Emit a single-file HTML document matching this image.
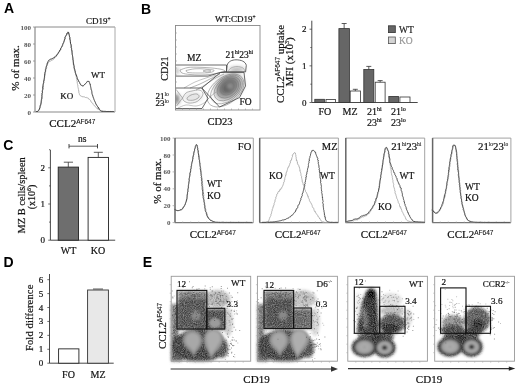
<!DOCTYPE html>
<html><head><meta charset="utf-8"><style>
html,body{margin:0;padding:0;background:#fff;}
svg{display:block;filter:grayscale(1);}
</style></head><body>
<svg width="520" height="388" viewBox="0 0 520 388">
<defs>
<filter id="bl2" x="-50%" y="-50%" width="200%" height="200%"><feGaussianBlur stdDeviation="2"/></filter>
<filter id="bl15" x="-50%" y="-50%" width="200%" height="200%"><feGaussianBlur stdDeviation="1.2"/></filter>
<filter id="spk" filterUnits="userSpaceOnUse" x="165" y="270" width="355" height="95" color-interpolation-filters="sRGB">
<feGaussianBlur in="SourceGraphic" stdDeviation="1.4" result="B"/>
<feColorMatrix in="B" type="matrix" values="0 0 0 0 0  0 0 0 0 0  0 0 0 0 0  -0.2126 -0.7152 -0.0722 0 1" result="D"/>
<feTurbulence type="fractalNoise" baseFrequency="0.9" numOctaves="1" seed="4" result="T"/>
<feColorMatrix in="T" type="matrix" values="0 0 0 0 0  0 0 0 0 0  0 0 0 0 0  1 0 0 0 0" result="N"/>
<feComposite in="D" in2="N" operator="arithmetic" k1="0.9" k2="0.55" k3="0" k4="0"/>
</filter>
<clipPath id="clipB"><rect x="175.5" y="25.5" width="84.5" height="84.5"/></clipPath>
</defs>
<rect width="520" height="388" fill="#fff"/>
<text x="3.9" y="13.2" style="font-family:'Liberation Sans',sans-serif;font-size:14px;font-weight:bold" fill="#000" text-anchor="start" >A</text>
<text x="86" y="24" style="font-family:'Liberation Serif',serif;font-size:9px;font-weight:normal" fill="#111" stroke="#111" stroke-width="0.2" text-anchor="start" >CD19<tspan style="font-size:5.5px" dy="-3.5">+</tspan></text>
<line x1="35" y1="27" x2="115" y2="27" stroke="#8a8a8a" stroke-width="1" />
<line x1="115" y1="27" x2="115" y2="112" stroke="#aaa" stroke-width="1" />
<line x1="35" y1="27" x2="35" y2="112" stroke="#8a8a8a" stroke-width="1.2" />
<line x1="35" y1="112" x2="115" y2="112" stroke="#8a8a8a" stroke-width="1.2" />
<text x="31" y="29.5" style="font-family:'Liberation Serif',serif;font-size:7px;font-weight:bold" fill="#555" text-anchor="end" >100</text>
<line x1="33" y1="27" x2="35" y2="27" stroke="#8a8a8a" stroke-width="0.8" />
<text x="31" y="46.5" style="font-family:'Liberation Serif',serif;font-size:7px;font-weight:bold" fill="#555" text-anchor="end" >80</text>
<line x1="33" y1="44" x2="35" y2="44" stroke="#8a8a8a" stroke-width="0.8" />
<text x="31" y="63.5" style="font-family:'Liberation Serif',serif;font-size:7px;font-weight:bold" fill="#555" text-anchor="end" >60</text>
<line x1="33" y1="61" x2="35" y2="61" stroke="#8a8a8a" stroke-width="0.8" />
<text x="31" y="80.5" style="font-family:'Liberation Serif',serif;font-size:7px;font-weight:bold" fill="#555" text-anchor="end" >40</text>
<line x1="33" y1="78" x2="35" y2="78" stroke="#8a8a8a" stroke-width="0.8" />
<text x="31" y="97.5" style="font-family:'Liberation Serif',serif;font-size:7px;font-weight:bold" fill="#555" text-anchor="end" >20</text>
<line x1="33" y1="95" x2="35" y2="95" stroke="#8a8a8a" stroke-width="0.8" />
<text x="31" y="114.5" style="font-family:'Liberation Serif',serif;font-size:7px;font-weight:bold" fill="#555" text-anchor="end" >0</text>
<line x1="33" y1="112" x2="35" y2="112" stroke="#8a8a8a" stroke-width="0.8" />
<text x="0" y="0" style="font-family:'Liberation Serif',serif;font-size:11px;font-weight:normal" fill="#111" stroke="#111" stroke-width="0.2" text-anchor="middle" transform="translate(19,68) rotate(-90)">% of max.</text>
<text x="72.3" y="127" style="font-family:'Liberation Serif',serif;font-size:11px;font-weight:normal" fill="#111" stroke="#111" stroke-width="0.2" text-anchor="middle" >CCL2<tspan style="font-family:'Liberation Sans',sans-serif;font-size:6.5px" stroke-width="0.1" dy="-3.3">AF647</tspan></text>
<path d="M36.0,111.5 L36.5,111.5 L37.2,111.4 L37.9,111.2 L38.6,110.5 L38.8,110.2 L39.0,109.9 L39.3,109.2 L39.6,109.4 L39.7,108.8 L39.7,107.9 L40.0,107.4 L40.1,106.9 L40.2,106.3 L40.6,105.8 L40.8,104.8 L41.0,103.8 L41.1,103.1 L41.4,103.2 L41.4,102.5 L41.2,101.6 L41.3,101.0 L41.6,100.7 L41.7,100.1 L41.8,99.9 L41.5,98.8 L41.9,98.4 L42.0,97.7 L41.7,97.2 L42.1,96.3 L41.9,95.7 L42.4,95.3 L42.1,94.3 L42.1,93.5 L42.5,92.9 L42.5,92.4 L42.4,92.0 L42.5,91.2 L42.5,90.4 L42.7,89.7 L43.0,89.4 L42.8,88.8 L42.9,87.8 L43.2,87.4 L43.0,87.0 L43.1,85.9 L43.4,85.4 L43.3,84.7 L43.3,84.4 L43.5,83.7 L43.7,82.9 L44.0,82.3 L43.9,81.8 L43.9,80.7 L44.3,80.5 L44.1,79.4 L44.4,79.3 L44.3,78.6 L44.7,77.8 L44.6,76.8 L44.6,76.8 L44.8,76.0 L44.9,75.5 L45.1,74.6 L45.0,74.3 L45.1,73.4 L45.4,73.3 L45.5,72.3 L45.8,71.8 L45.5,71.3 L45.8,70.7 L45.8,70.4 L46.1,69.4 L46.2,69.1 L46.6,68.2 L46.7,67.4 L46.6,66.4 L46.7,66.3 L47.2,65.8 L47.1,65.0 L47.5,64.5 L47.6,64.2 L47.7,63.4 L48.2,63.2 L48.4,62.6 L48.9,62.2 L49.2,61.6 L50.0,61.4 L50.3,61.2 L51.1,60.8 L51.5,60.4 L52.0,60.3 L52.3,60.0 L53.1,59.8 L53.5,59.1 L54.0,58.8 L54.3,58.6 L54.6,58.1 L55.0,57.6 L55.7,56.8 L56.1,56.6 L56.5,56.4 L56.7,55.3 L57.1,55.3 L57.4,54.4 L58.0,54.2 L58.2,53.9 L58.5,53.1 L58.8,52.4 L59.4,52.1 L59.7,51.2 L59.9,50.7 L60.0,50.3 L60.6,50.0 L60.9,49.5 L61.0,48.3 L61.3,47.8 L61.5,47.3 L62.0,46.8 L62.1,46.5 L62.7,45.6 L62.6,44.7 L63.2,44.2 L63.3,43.9 L63.4,43.5 L63.5,42.4 L63.9,41.6 L64.3,41.1 L64.2,40.4 L64.6,40.0 L64.8,39.5 L65.0,39.1 L65.2,38.0 L65.3,37.5 L65.3,37.2 L65.9,36.2 L66.0,35.6 L66.5,35.1 L66.8,34.6 L67.0,34.1 L67.6,33.1 L67.8,33.2 L67.7,32.8 L68.4,32.7 L68.6,32.7 L69.3,34.7 L69.4,34.8 L69.3,35.0 L69.4,35.9 L69.5,36.3 L69.4,36.9 L69.8,37.4 L69.7,37.8 L69.7,38.5 L70.0,38.6 L69.8,39.3 L70.1,40.1 L70.2,40.3 L70.4,40.9 L70.5,41.7 L70.4,42.8 L70.4,43.0 L70.7,44.1 L70.9,44.7 L71.1,45.3 L71.2,45.7 L71.0,46.7 L71.1,47.5 L71.4,48.0 L71.6,48.7 L71.4,49.3 L71.7,50.3 L71.6,50.8 L72.0,51.2 L71.9,51.5 L71.9,52.3 L72.1,52.6 L72.3,53.6 L72.1,54.4 L72.3,54.8 L72.4,55.2 L72.4,56.1 L72.7,57.1 L72.5,57.4 L72.5,58.1 L72.9,59.0 L72.8,59.3 L72.8,60.1 L73.2,60.4 L73.2,61.0 L73.0,61.8 L73.3,62.4 L73.2,63.3 L73.2,63.9 L73.3,64.4 L73.4,64.7 L73.6,65.4 L73.6,66.0 L73.8,66.3 L73.7,67.1 L74.0,67.6 L74.1,68.1 L74.3,68.7 L74.4,69.8 L74.6,70.2 L74.5,71.2 L74.7,71.9 L75.1,71.8 L75.0,72.7 L75.1,72.8 L75.5,73.5 L75.7,73.8 L75.7,74.7 L75.6,74.9 L76.1,76.0 L76.3,76.0 L76.3,77.2 L76.4,77.7 L76.4,77.8 L76.5,78.4 L76.8,79.3 L76.9,79.7 L76.8,80.4 L77.2,81.7 L77.4,81.7 L77.1,83.0 L77.4,83.6 L77.4,84.0 L77.6,84.7 L77.8,85.1 L77.9,86.3 L77.8,86.7 L78.1,87.3 L78.0,87.7 L78.2,88.2 L78.5,89.3 L78.5,89.8 L78.6,89.9 L78.7,91.0 L79.0,92.0 L78.8,92.8 L79.1,93.3 L79.3,93.6 L79.4,94.4 L79.5,94.8 L79.8,94.9 L80.1,95.1 L80.4,95.8 L80.8,96.0 L81.6,96.4 L82.1,96.8 L83.0,96.5 L83.6,96.8 L84.2,96.8 L85.0,97.2 L85.5,97.5 L86.2,97.2 L86.6,97.8 L87.1,97.8 L87.6,97.9 L88.3,98.2 L88.9,99.3 L89.4,99.3 L89.9,99.8 L90.3,100.3 L90.6,100.4 L90.9,101.3 L91.0,102.0 L91.5,102.2 L91.9,102.8 L92.4,103.0 L93.0,103.8 L93.2,104.4 L93.5,104.7 L94.1,105.3 L94.4,105.9 L94.9,105.9 L95.3,106.4 L95.8,107.4 L96.5,108.0 L97.1,107.8 L97.7,108.9 L97.8,109.3 L98.5,109.3 L99.0,109.7 L99.3,110.1 L99.7,110.3 L100.3,110.9 L100.5,111.1 L100.8,111.2 L102.0,111.3 L102.4,111.3 L102.9,111.4 L103.4,111.4 L104.0,111.4 L104.6,111.4 L105.3,111.5 L106.0,111.4 L106.7,111.5 L107.4,111.5 L108.1,111.4 L108.9,111.5 L109.6,111.5 L110.3,111.4 L111.0,111.5 L111.6,111.5 L112.2,111.4 L112.7,111.5 L113.2,111.5 L113.7,111.5 L114.0,111.5" stroke="#aaa" stroke-width="0.9" fill="none" stroke-linejoin="round"/>
<path d="M36.0,111.5 L36.5,111.5 L37.1,111.5 L37.9,111.3 L38.6,110.5 L38.8,110.2 L39.0,109.8 L39.1,109.2 L39.5,108.9 L39.6,108.9 L39.6,108.1 L40.0,107.8 L40.1,106.8 L40.1,106.5 L40.3,105.2 L40.7,104.6 L40.9,103.6 L41.1,102.4 L41.0,102.4 L41.0,101.7 L41.3,101.5 L41.2,100.6 L41.3,100.5 L41.4,99.5 L41.6,99.3 L41.8,98.9 L41.8,98.0 L41.9,97.3 L41.7,96.8 L42.1,96.5 L41.8,95.5 L42.0,94.8 L42.0,94.2 L42.0,93.6 L42.4,93.0 L42.4,92.3 L42.2,91.8 L42.6,90.8 L42.3,90.3 L42.6,89.7 L42.9,89.1 L42.9,88.0 L42.8,87.9 L42.7,86.8 L43.1,86.7 L42.9,85.9 L43.0,85.4 L43.2,84.5 L43.1,84.3 L43.3,83.7 L43.4,82.9 L43.7,82.4 L43.6,81.6 L43.8,81.0 L44.0,80.1 L44.1,79.6 L44.2,79.1 L44.3,78.5 L44.4,77.6 L44.3,77.0 L44.6,76.2 L44.5,75.4 L44.8,75.3 L44.7,74.1 L44.7,73.7 L44.9,73.5 L44.9,72.5 L45.0,72.2 L45.4,71.3 L45.2,70.9 L45.5,70.7 L45.4,69.7 L45.6,69.2 L45.7,69.1 L45.9,68.3 L46.0,67.5 L46.1,67.1 L46.4,66.2 L46.7,65.5 L46.7,65.1 L47.1,64.2 L47.1,64.0 L47.3,63.0 L47.3,63.0 L47.8,62.2 L47.9,61.8 L48.0,61.7 L48.4,60.8 L48.6,60.4 L49.2,60.2 L49.9,59.7 L50.2,59.2 L50.8,59.1 L51.6,59.0 L52.1,59.0 L52.4,58.4 L52.9,58.3 L53.4,58.0 L54.3,57.7 L54.5,56.9 L55.3,56.4 L55.7,56.2 L56.3,55.9 L56.6,55.3 L56.9,54.9 L57.3,54.2 L57.6,53.8 L57.9,53.6 L58.1,53.3 L58.5,52.3 L58.8,51.8 L59.3,51.5 L59.5,50.9 L59.7,50.2 L60.2,50.1 L60.6,49.3 L60.6,48.6 L61.2,47.9 L61.4,47.5 L61.5,47.3 L62.1,46.1 L62.3,45.6 L62.4,45.2 L62.7,44.5 L63.0,44.1 L63.1,43.2 L63.6,42.6 L63.9,42.2 L64.0,41.3 L64.3,40.5 L64.2,39.9 L64.6,39.7 L64.6,38.9 L65.1,38.4 L64.9,37.6 L65.2,36.9 L65.5,36.4 L66.0,35.9 L66.1,35.4 L66.6,34.8 L66.7,33.8 L67.1,33.0 L67.3,33.0 L67.9,32.7 L68.0,32.4 L68.1,31.9 L68.6,32.5 L68.9,34.1 L69.2,34.8 L69.4,35.0 L69.2,35.6 L69.6,35.9 L69.5,36.4 L69.5,37.1 L69.9,37.5 L69.9,38.3 L69.8,39.0 L70.1,39.1 L70.0,39.8 L70.3,40.7 L70.3,41.6 L70.4,41.9 L70.5,43.0 L70.6,43.6 L70.9,44.1 L71.0,44.6 L71.2,45.8 L71.3,46.2 L71.1,47.1 L71.3,47.8 L71.4,48.3 L71.7,48.7 L71.7,49.2 L71.6,49.8 L72.1,51.0 L72.0,51.1 L72.1,52.0 L72.0,52.5 L72.3,52.8 L72.1,53.7 L72.2,54.3 L72.4,54.8 L72.5,55.5 L72.6,56.2 L72.7,56.6 L72.8,57.3 L73.0,58.3 L72.9,58.8 L73.0,59.6 L73.2,60.3 L73.1,61.1 L73.4,61.6 L73.3,61.9 L73.4,62.8 L73.5,63.2 L73.6,64.0 L73.6,64.0 L73.9,65.2 L74.0,65.5 L74.1,65.9 L74.2,66.4 L74.1,67.3 L74.4,68.0 L74.4,68.8 L74.7,69.2 L74.8,69.9 L74.9,70.3 L75.4,71.6 L75.4,72.2 L75.5,72.7 L75.6,73.3 L75.9,74.0 L75.9,74.5 L76.0,74.9 L76.6,75.1 L76.5,75.9 L76.7,76.2 L77.1,77.3 L77.1,77.5 L77.3,77.7 L77.3,78.8 L77.6,79.0 L78.2,80.0 L78.3,80.2 L78.6,81.4 L79.2,81.6 L79.5,82.3 L79.7,82.8 L80.2,84.0 L80.3,84.2 L80.7,84.9 L81.0,84.8 L81.6,85.3 L82.1,85.9 L82.4,85.6 L82.8,86.3 L83.2,85.7 L83.6,85.5 L84.3,85.0 L84.6,84.4 L85.3,84.1 L85.8,83.3 L86.5,82.6 L86.8,81.8 L87.6,81.5 L87.8,81.2 L88.2,81.4 L88.8,81.3 L89.0,81.2 L89.2,81.7 L89.3,82.4 L89.4,82.5 L89.8,82.9 L89.8,83.6 L89.9,84.4 L90.4,84.4 L90.4,85.6 L90.5,86.4 L90.7,86.5 L90.8,87.5 L90.9,88.3 L91.2,88.9 L91.2,89.8 L91.5,90.3 L91.7,90.8 L91.8,91.5 L91.9,92.2 L91.9,93.3 L92.2,93.9 L92.2,94.3 L92.3,94.9 L92.6,95.1 L92.9,96.3 L93.1,97.0 L93.2,97.2 L93.4,98.1 L93.8,98.7 L94.0,99.6 L94.2,100.3 L94.6,100.7 L95.0,101.0 L94.9,101.6 L95.2,102.2 L95.6,102.9 L95.7,103.5 L95.9,104.1 L96.2,104.2 L96.4,105.0 L96.9,105.5 L97.0,106.0 L97.5,106.5 L98.2,107.0 L98.3,108.0 L98.9,108.1 L99.0,109.0 L99.2,109.1 L99.8,109.6 L100.1,110.0 L100.4,110.3 L100.9,110.9 L101.3,111.1 L101.8,111.2 L103.0,111.3 L103.4,111.4 L103.9,111.3 L104.5,111.4 L105.1,111.4 L105.8,111.4 L106.4,111.5 L107.2,111.5 L107.9,111.5 L108.7,111.5 L109.4,111.5 L110.1,111.5 L110.8,111.5 L111.5,111.5 L112.1,111.5 L112.7,111.5 L113.2,111.5 L113.7,111.5 L114.0,111.5" stroke="#333" stroke-width="0.95" fill="none" stroke-linejoin="round"/>
<text x="60.3" y="99" style="font-family:'Liberation Serif',serif;font-size:9px;font-weight:normal" fill="#111" stroke="#111" stroke-width="0.2" text-anchor="start" >KO</text>
<text x="90.9" y="78" style="font-family:'Liberation Serif',serif;font-size:9px;font-weight:normal" fill="#111" stroke="#111" stroke-width="0.2" text-anchor="start" >WT</text>
<text x="141.0" y="13.9" style="font-family:'Liberation Sans',sans-serif;font-size:14px;font-weight:bold" fill="#000" text-anchor="start" >B</text>
<text x="215" y="22" style="font-family:'Liberation Serif',serif;font-size:9px;font-weight:normal" fill="#111" stroke="#111" stroke-width="0.2" text-anchor="start" >WT:CD19<tspan style="font-size:5.5px" dy="-3.5">+</tspan></text>
<g filter="url(#bl2)" clip-path="url(#clipB)">
<ellipse cx="229" cy="87" rx="16" ry="12" fill="#b0b0b0" transform="rotate(-40 229 87)"/>
<ellipse cx="228" cy="86" rx="12" ry="9" fill="#808080" transform="rotate(-40 228 86)"/>
<ellipse cx="228.5" cy="86.5" rx="7" ry="5.5" fill="#5e5e5e" transform="rotate(-40 229 87)"/>
<ellipse cx="237" cy="69.5" rx="8" ry="2.5" fill="#b0b0b0"/>
<ellipse cx="230" cy="86" rx="2" ry="1.6" fill="#ddd"/>
<ellipse cx="176.5" cy="99" rx="2.5" ry="5" fill="#666"/>
<ellipse cx="176.5" cy="71" rx="2" ry="3" fill="#999"/>
<ellipse cx="193" cy="97" rx="10" ry="5" fill="#e4e4e4"/>
</g>
<ellipse cx="225.5" cy="90.5" rx="21" ry="13" fill="none" stroke="#777" stroke-width="0.5" transform="rotate(-38 225.5 90.5)"/>
<ellipse cx="226.5" cy="89.5" rx="18" ry="11.5" fill="none" stroke="#777" stroke-width="0.5" transform="rotate(-38 226.5 89.5)"/>
<ellipse cx="227.3" cy="88.7" rx="15" ry="10" fill="none" stroke="#777" stroke-width="0.5" transform="rotate(-38 227.3 88.7)"/>
<ellipse cx="227.9" cy="88.1" rx="12" ry="8.5" fill="none" stroke="#777" stroke-width="0.5" transform="rotate(-38 227.9 88.1)"/>
<ellipse cx="228.5" cy="87.5" rx="9" ry="6.5" fill="none" stroke="#777" stroke-width="0.5" transform="rotate(-38 228.5 87.5)"/>
<ellipse cx="228.5" cy="87.5" rx="6" ry="4.5" fill="none" stroke="#777" stroke-width="0.5" transform="rotate(-38 228.5 87.5)"/>
<path d="M228.0,71.5 C228.5,70.9 229.5,68.8 231.0,68.0 C232.5,67.2 235.0,66.5 237.0,66.5 C239.0,66.5 241.7,67.2 243.0,68.0 C244.3,68.8 244.7,70.9 245.0,71.5" stroke="#888" stroke-width="0.5" fill="none" stroke-linejoin="round" />
<path d="M180.0,70.0 C181.3,69.6 184.7,68.0 188.0,67.5 C191.3,67.0 196.0,67.2 200.0,67.3 C204.0,67.4 208.3,67.6 212.0,68.0 C215.7,68.4 219.8,68.9 222.0,69.5 C224.2,70.1 225.7,70.9 225.0,71.5 C224.3,72.1 220.5,72.5 218.0,73.0 C215.5,73.5 213.0,74.2 210.0,74.5 C207.0,74.8 203.3,75.0 200.0,75.0 C196.7,75.0 193.0,74.8 190.0,74.5 C187.0,74.2 183.7,73.8 182.0,73.0 C180.3,72.2 180.3,70.5 180.0,70.0" stroke="#777" stroke-width="0.55" fill="none" stroke-linejoin="round" />
<path d="M186.0,70.5 C187.5,70.2 191.8,69.0 195.0,68.8 C198.2,68.5 201.8,68.8 205.0,69.0 C208.2,69.2 213.2,69.7 214.0,70.3 C214.8,70.9 212.7,72.0 210.0,72.5 C207.3,73.0 201.7,73.0 198.0,73.0 C194.3,73.0 190.0,72.9 188.0,72.5 C186.0,72.1 186.3,70.8 186.0,70.5" stroke="#777" stroke-width="0.55" fill="none" stroke-linejoin="round" />
<path d="M203.0,71.0 C203.7,70.8 205.7,70.0 207.0,70.0 C208.3,70.0 211.0,70.7 211.0,71.0 C211.0,71.3 208.3,72.0 207.0,72.0 C205.7,72.0 203.7,71.2 203.0,71.0" stroke="#777" stroke-width="0.55" fill="none" stroke-linejoin="round" />
<path d="M190.0,88.0 C191.7,87.3 196.7,85.5 200.0,84.0 C203.3,82.5 206.7,80.7 210.0,79.0 C213.3,77.3 218.3,74.8 220.0,74.0" stroke="#777" stroke-width="0.55" fill="none" stroke-linejoin="round" />
<path d="M196.0,90.0 C197.5,89.2 202.0,86.8 205.0,85.0 C208.0,83.2 210.8,80.8 214.0,79.0 C217.2,77.2 222.3,74.8 224.0,74.0" stroke="#777" stroke-width="0.55" fill="none" stroke-linejoin="round" />
<path d="M184.0,88.0 C185.8,87.0 191.3,83.7 195.0,82.0 C198.7,80.3 202.5,79.2 206.0,78.0 C209.5,76.8 214.3,75.5 216.0,75.0" stroke="#888" stroke-width="0.5" fill="none" stroke-linejoin="round" />
<path d="M176.5,90.0 L182.5,98.0 L176.5,106.0" stroke="#777" stroke-width="0.55" fill="none" stroke-linejoin="round" />
<path d="M182.5,98.0 C183.1,97.2 184.4,94.2 186.0,93.0 C187.6,91.8 189.8,91.5 192.0,91.0 C194.2,90.5 197.2,89.7 199.0,90.0 C200.8,90.3 202.7,91.7 203.0,93.0 C203.3,94.3 202.2,96.5 201.0,98.0 C199.8,99.5 198.0,101.2 196.0,102.0 C194.0,102.8 191.0,103.2 189.0,103.0 C187.0,102.8 185.1,101.8 184.0,101.0 C182.9,100.2 182.8,98.5 182.5,98.0" stroke="#777" stroke-width="0.55" fill="none" stroke-linejoin="round" />
<path d="M187.0,98.0 C187.7,97.5 189.3,95.7 191.0,95.0 C192.7,94.3 195.7,93.7 197.0,94.0 C198.3,94.3 199.5,96.0 199.0,97.0 C198.5,98.0 195.8,99.5 194.0,100.0 C192.2,100.5 189.2,100.3 188.0,100.0 C186.8,99.7 187.2,98.3 187.0,98.0" stroke="#777" stroke-width="0.55" fill="none" stroke-linejoin="round" />
<path d="M178.0,108.0 C179.3,107.5 183.0,105.3 186.0,105.0 C189.0,104.7 193.0,106.3 196.0,106.0 C199.0,105.7 201.7,104.5 204.0,103.0 C206.3,101.5 208.0,98.8 210.0,97.0 C212.0,95.2 215.0,92.8 216.0,92.0" stroke="#888" stroke-width="0.5" fill="none" stroke-linejoin="round" />
<path d="M175.5,65.0 L226.5,65.0 L226.5,71.5 L220.6,72.4 L208.0,76.1 L175.5,76.1" stroke="#444" stroke-width="0.8" fill="none" stroke-linejoin="round" />
<path d="M226.5,71.8 L227.2,65.3 C228,61.5 232,59.8 236,59.8 C241,59.8 245.5,61.5 246.3,65.3 L245.6,71.8 Z" fill="none" stroke="#444" stroke-width="0.8"/>
<path d="M220.6,72.4 L244.0,72.4 L245.5,86.0 L239.5,97.5 L219.5,107.0 L201.9,88.0 L220.6,72.4" stroke="#444" stroke-width="0.8" fill="none" stroke-linejoin="round" />
<path d="M175.5,88.0 L201.9,88.0 L208.0,98.4 L202.0,108.5 L175.5,108.5" stroke="#444" stroke-width="0.8" fill="none" stroke-linejoin="round" />
<rect x="175.5" y="25.5" width="84.5" height="84.5" stroke="#888" stroke-width="0.9" fill="none" />
<line x1="182.5" y1="110" x2="182.5" y2="108.5" stroke="#999" stroke-width="0.6" />
<line x1="189.5" y1="110" x2="189.5" y2="108.5" stroke="#999" stroke-width="0.6" />
<line x1="196.5" y1="110" x2="196.5" y2="108.5" stroke="#999" stroke-width="0.6" />
<line x1="203.5" y1="110" x2="203.5" y2="108.5" stroke="#999" stroke-width="0.6" />
<line x1="210.5" y1="110" x2="210.5" y2="108.5" stroke="#999" stroke-width="0.6" />
<line x1="217.5" y1="110" x2="217.5" y2="108.5" stroke="#999" stroke-width="0.6" />
<line x1="224.5" y1="110" x2="224.5" y2="108.5" stroke="#999" stroke-width="0.6" />
<line x1="231.5" y1="110" x2="231.5" y2="108.5" stroke="#999" stroke-width="0.6" />
<line x1="238.5" y1="110" x2="238.5" y2="108.5" stroke="#999" stroke-width="0.6" />
<line x1="245.5" y1="110" x2="245.5" y2="108.5" stroke="#999" stroke-width="0.6" />
<line x1="252.5" y1="110" x2="252.5" y2="108.5" stroke="#999" stroke-width="0.6" />
<line x1="175.5" y1="103" x2="177.0" y2="103" stroke="#999" stroke-width="0.6" />
<line x1="175.5" y1="96" x2="177.0" y2="96" stroke="#999" stroke-width="0.6" />
<line x1="175.5" y1="89" x2="177.0" y2="89" stroke="#999" stroke-width="0.6" />
<line x1="175.5" y1="82" x2="177.0" y2="82" stroke="#999" stroke-width="0.6" />
<line x1="175.5" y1="75" x2="177.0" y2="75" stroke="#999" stroke-width="0.6" />
<line x1="175.5" y1="68" x2="177.0" y2="68" stroke="#999" stroke-width="0.6" />
<line x1="175.5" y1="61" x2="177.0" y2="61" stroke="#999" stroke-width="0.6" />
<line x1="175.5" y1="54" x2="177.0" y2="54" stroke="#999" stroke-width="0.6" />
<line x1="175.5" y1="47" x2="177.0" y2="47" stroke="#999" stroke-width="0.6" />
<line x1="175.5" y1="40" x2="177.0" y2="40" stroke="#999" stroke-width="0.6" />
<line x1="175.5" y1="33" x2="177.0" y2="33" stroke="#999" stroke-width="0.6" />
<text x="187" y="60.5" style="font-family:'Liberation Serif',serif;font-size:9.5px;font-weight:normal" fill="#111" stroke="#111" stroke-width="0.2" text-anchor="start" >MZ</text>
<text x="225.5" y="57.8" style="font-family:'Liberation Serif',serif;font-size:9.5px;font-weight:normal" fill="#111" stroke="#111" stroke-width="0.2" text-anchor="start" >21<tspan style="font-size:5.5px" dy="-3.5">hi</tspan><tspan dy="3.5">23</tspan><tspan style="font-size:5.5px" dy="-3.5">hi</tspan></text>
<text x="239.4" y="105.3" style="font-family:'Liberation Serif',serif;font-size:9.5px;font-weight:normal" fill="#111" stroke="#111" stroke-width="0.2" text-anchor="start" >FO</text>
<text x="0" y="0" style="font-family:'Liberation Serif',serif;font-size:10.2px;font-weight:normal" fill="#111" stroke="#111" stroke-width="0.2" text-anchor="middle" transform="translate(168.3,68.5) rotate(-90)">CD21</text>
<text x="155.4" y="98.8" style="font-family:'Liberation Serif',serif;font-size:9px;font-weight:normal" fill="#111" stroke="#111" stroke-width="0.2" text-anchor="start" >21<tspan style="font-size:5.5px" dy="-3.3" stroke-width="0.08">lo</tspan></text>
<text x="155.4" y="106.4" style="font-family:'Liberation Serif',serif;font-size:9px;font-weight:normal" fill="#111" stroke="#111" stroke-width="0.2" text-anchor="start" >23<tspan style="font-size:5.5px" dy="-3.3" stroke-width="0.08">lo</tspan></text>
<text x="207.5" y="125.3" style="font-family:'Liberation Serif',serif;font-size:10.5px;font-weight:normal" fill="#111" stroke="#111" stroke-width="0.2" text-anchor="start" >CD23</text>
<line x1="311.8" y1="20.7" x2="311.8" y2="102.5" stroke="#333" stroke-width="0.9" />
<line x1="311.8" y1="102.5" x2="417.7" y2="102.5" stroke="#333" stroke-width="0.9" />
<line x1="309.5" y1="102.5" x2="311.8" y2="102.5" stroke="#333" stroke-width="0.7" />
<line x1="310.3" y1="84.175" x2="311.8" y2="84.175" stroke="#333" stroke-width="0.7" />
<line x1="309.5" y1="65.85" x2="311.8" y2="65.85" stroke="#333" stroke-width="0.7" />
<line x1="310.3" y1="47.525000000000006" x2="311.8" y2="47.525000000000006" stroke="#333" stroke-width="0.7" />
<line x1="309.5" y1="29.200000000000003" x2="311.8" y2="29.200000000000003" stroke="#333" stroke-width="0.7" />
<text x="306.5" y="32.2" style="font-family:'Liberation Serif',serif;font-size:9px;font-weight:normal" fill="#111" stroke="#111" stroke-width="0.2" text-anchor="end" >2</text>
<text x="306.5" y="68.85" style="font-family:'Liberation Serif',serif;font-size:9px;font-weight:normal" fill="#111" stroke="#111" stroke-width="0.2" text-anchor="end" >1</text>
<text x="306.5" y="105.5" style="font-family:'Liberation Serif',serif;font-size:9px;font-weight:normal" fill="#111" stroke="#111" stroke-width="0.2" text-anchor="end" >0</text>
<rect x="314.8" y="99.3" width="9.599999999999966" height="3.200000000000003" stroke="#333" stroke-width="0.8" fill="#666" />
<rect x="326" y="99.5" width="9.5" height="3.0" stroke="#333" stroke-width="0.8" fill="#fff" />
<rect x="338.9" y="28.6" width="10.5" height="73.9" stroke="#333" stroke-width="0.8" fill="#666" />
<line x1="344.15" y1="28.6" x2="344.15" y2="23.5" stroke="#333" stroke-width="0.8" />
<line x1="341.65" y1="23.5" x2="346.65" y2="23.5" stroke="#333" stroke-width="0.8" />
<rect x="350.2" y="91" width="10.199999999999989" height="11.5" stroke="#333" stroke-width="0.8" fill="#fff" />
<line x1="355.29999999999995" y1="91" x2="355.29999999999995" y2="89.3" stroke="#333" stroke-width="0.8" />
<line x1="352.79999999999995" y1="89.3" x2="357.79999999999995" y2="89.3" stroke="#333" stroke-width="0.8" />
<rect x="363.8" y="69.5" width="10.0" height="33.0" stroke="#333" stroke-width="0.8" fill="#666" />
<line x1="368.8" y1="69.5" x2="368.8" y2="66.4" stroke="#333" stroke-width="0.8" />
<line x1="366.3" y1="66.4" x2="371.3" y2="66.4" stroke="#333" stroke-width="0.8" />
<rect x="375.2" y="82.2" width="9.900000000000034" height="20.299999999999997" stroke="#333" stroke-width="0.8" fill="#fff" />
<line x1="380.15" y1="82.2" x2="380.15" y2="80.6" stroke="#333" stroke-width="0.8" />
<line x1="377.65" y1="80.6" x2="382.65" y2="80.6" stroke="#333" stroke-width="0.8" />
<rect x="388.8" y="96.4" width="9.599999999999966" height="6.099999999999994" stroke="#333" stroke-width="0.8" fill="#666" />
<rect x="399.9" y="97" width="10.100000000000023" height="5.5" stroke="#333" stroke-width="0.8" fill="#fff" />
<rect x="388.5" y="25.8" width="6.8" height="6.8" stroke="#333" stroke-width="0.8" fill="#666" />
<rect x="388.5" y="37" width="6.8" height="6.6" stroke="#555" stroke-width="0.8" fill="#d4d4d4" />
<text x="399" y="32.6" style="font-family:'Liberation Serif',serif;font-size:9.5px;font-weight:normal" fill="#222" stroke="#222" stroke-width="0.2" text-anchor="start" >WT</text>
<text x="399" y="43.6" style="font-family:'Liberation Serif',serif;font-size:9.5px;font-weight:normal" fill="#999" stroke="#999" stroke-width="0.2" text-anchor="start" >KO</text>
<text x="318.5" y="115.3" style="font-family:'Liberation Serif',serif;font-size:10px;font-weight:normal" fill="#111" stroke="#111" stroke-width="0.2" text-anchor="start" >FO</text>
<text x="342.5" y="115.3" style="font-family:'Liberation Serif',serif;font-size:10px;font-weight:normal" fill="#111" stroke="#111" stroke-width="0.2" text-anchor="start" >MZ</text>
<text x="367" y="115.3" style="font-family:'Liberation Serif',serif;font-size:10px;font-weight:normal" fill="#111" stroke="#111" stroke-width="0.2" text-anchor="start" >21<tspan style="font-size:6px" dy="-4">hi</tspan></text>
<text x="391" y="115.3" style="font-family:'Liberation Serif',serif;font-size:10px;font-weight:normal" fill="#111" stroke="#111" stroke-width="0.2" text-anchor="start" >21<tspan style="font-size:6px" dy="-4">lo</tspan></text>
<text x="367" y="126.3" style="font-family:'Liberation Serif',serif;font-size:10px;font-weight:normal" fill="#111" stroke="#111" stroke-width="0.2" text-anchor="start" >23<tspan style="font-size:6px" dy="-4">hi</tspan></text>
<text x="391" y="126.3" style="font-family:'Liberation Serif',serif;font-size:10px;font-weight:normal" fill="#111" stroke="#111" stroke-width="0.2" text-anchor="start" >23<tspan style="font-size:6px" dy="-4">lo</tspan></text>
<text x="0" y="0" style="font-family:'Liberation Serif',serif;font-size:11px;font-weight:normal" fill="#111" stroke="#111" stroke-width="0.2" text-anchor="middle" transform="translate(283.5,64) rotate(-90)">CCL2<tspan style="font-family:'Liberation Sans',sans-serif;font-size:6.5px" stroke-width="0.1" dy="-3.3">AF647</tspan><tspan dy="3.3"> uptake</tspan></text>
<text x="0" y="0" style="font-family:'Liberation Serif',serif;font-size:11px;font-weight:normal" fill="#111" stroke="#111" stroke-width="0.2" text-anchor="middle" transform="translate(292.5,62) rotate(-90)">MFI (x10<tspan style="font-size:6px" dy="-4">3</tspan><tspan dy="4">)</tspan></text>
<line x1="174.7" y1="138.1" x2="253.3" y2="138.1" stroke="#999" stroke-width="0.9" />
<line x1="253.3" y1="138.1" x2="253.3" y2="222.6" stroke="#999" stroke-width="0.9" />
<line x1="175.0" y1="138.1" x2="175.0" y2="222.6" stroke="#666" stroke-width="1.5" />
<line x1="174.7" y1="222.6" x2="253.3" y2="222.6" stroke="#777" stroke-width="1.2" />
<line x1="182.7" y1="222.6" x2="182.7" y2="221.4" stroke="#aaa" stroke-width="0.6" />
<line x1="190.7" y1="222.6" x2="190.7" y2="221.4" stroke="#aaa" stroke-width="0.6" />
<line x1="198.7" y1="222.6" x2="198.7" y2="221.4" stroke="#aaa" stroke-width="0.6" />
<line x1="206.7" y1="222.6" x2="206.7" y2="221.4" stroke="#aaa" stroke-width="0.6" />
<line x1="214.7" y1="222.6" x2="214.7" y2="221.4" stroke="#aaa" stroke-width="0.6" />
<line x1="222.7" y1="222.6" x2="222.7" y2="221.4" stroke="#aaa" stroke-width="0.6" />
<line x1="230.7" y1="222.6" x2="230.7" y2="221.4" stroke="#aaa" stroke-width="0.6" />
<line x1="238.7" y1="222.6" x2="238.7" y2="221.4" stroke="#aaa" stroke-width="0.6" />
<line x1="246.7" y1="222.6" x2="246.7" y2="221.4" stroke="#aaa" stroke-width="0.6" />
<text x="212.8" y="238" style="font-family:'Liberation Serif',serif;font-size:11px;font-weight:normal" fill="#111" stroke="#111" stroke-width="0.2" text-anchor="middle" >CCL2<tspan style="font-family:'Liberation Sans',sans-serif;font-size:6.5px" stroke-width="0.1" dy="-3.3">AF647</tspan></text>
<line x1="259.4" y1="138.1" x2="338.4" y2="138.1" stroke="#999" stroke-width="0.9" />
<line x1="338.4" y1="138.1" x2="338.4" y2="222.6" stroke="#999" stroke-width="0.9" />
<line x1="259.7" y1="138.1" x2="259.7" y2="222.6" stroke="#666" stroke-width="1.5" />
<line x1="259.4" y1="222.6" x2="338.4" y2="222.6" stroke="#777" stroke-width="1.2" />
<line x1="267.4" y1="222.6" x2="267.4" y2="221.4" stroke="#aaa" stroke-width="0.6" />
<line x1="275.4" y1="222.6" x2="275.4" y2="221.4" stroke="#aaa" stroke-width="0.6" />
<line x1="283.4" y1="222.6" x2="283.4" y2="221.4" stroke="#aaa" stroke-width="0.6" />
<line x1="291.4" y1="222.6" x2="291.4" y2="221.4" stroke="#aaa" stroke-width="0.6" />
<line x1="299.4" y1="222.6" x2="299.4" y2="221.4" stroke="#aaa" stroke-width="0.6" />
<line x1="307.4" y1="222.6" x2="307.4" y2="221.4" stroke="#aaa" stroke-width="0.6" />
<line x1="315.4" y1="222.6" x2="315.4" y2="221.4" stroke="#aaa" stroke-width="0.6" />
<line x1="323.4" y1="222.6" x2="323.4" y2="221.4" stroke="#aaa" stroke-width="0.6" />
<line x1="331.4" y1="222.6" x2="331.4" y2="221.4" stroke="#aaa" stroke-width="0.6" />
<text x="297.7" y="238" style="font-family:'Liberation Serif',serif;font-size:11px;font-weight:normal" fill="#111" stroke="#111" stroke-width="0.2" text-anchor="middle" >CCL2<tspan style="font-family:'Liberation Sans',sans-serif;font-size:6.5px" stroke-width="0.1" dy="-3.3">AF647</tspan></text>
<line x1="345.5" y1="138.1" x2="424.7" y2="138.1" stroke="#999" stroke-width="0.9" />
<line x1="424.7" y1="138.1" x2="424.7" y2="222.6" stroke="#999" stroke-width="0.9" />
<line x1="345.8" y1="138.1" x2="345.8" y2="222.6" stroke="#666" stroke-width="1.5" />
<line x1="345.5" y1="222.6" x2="424.7" y2="222.6" stroke="#777" stroke-width="1.2" />
<line x1="353.5" y1="222.6" x2="353.5" y2="221.4" stroke="#aaa" stroke-width="0.6" />
<line x1="361.5" y1="222.6" x2="361.5" y2="221.4" stroke="#aaa" stroke-width="0.6" />
<line x1="369.5" y1="222.6" x2="369.5" y2="221.4" stroke="#aaa" stroke-width="0.6" />
<line x1="377.5" y1="222.6" x2="377.5" y2="221.4" stroke="#aaa" stroke-width="0.6" />
<line x1="385.5" y1="222.6" x2="385.5" y2="221.4" stroke="#aaa" stroke-width="0.6" />
<line x1="393.5" y1="222.6" x2="393.5" y2="221.4" stroke="#aaa" stroke-width="0.6" />
<line x1="401.5" y1="222.6" x2="401.5" y2="221.4" stroke="#aaa" stroke-width="0.6" />
<line x1="409.5" y1="222.6" x2="409.5" y2="221.4" stroke="#aaa" stroke-width="0.6" />
<line x1="417.5" y1="222.6" x2="417.5" y2="221.4" stroke="#aaa" stroke-width="0.6" />
<text x="383.90000000000003" y="238" style="font-family:'Liberation Serif',serif;font-size:11px;font-weight:normal" fill="#111" stroke="#111" stroke-width="0.2" text-anchor="middle" >CCL2<tspan style="font-family:'Liberation Sans',sans-serif;font-size:6.5px" stroke-width="0.1" dy="-3.3">AF647</tspan></text>
<line x1="432.3" y1="138.1" x2="510.9" y2="138.1" stroke="#999" stroke-width="0.9" />
<line x1="510.9" y1="138.1" x2="510.9" y2="222.6" stroke="#999" stroke-width="0.9" />
<line x1="432.6" y1="138.1" x2="432.6" y2="222.6" stroke="#666" stroke-width="1.5" />
<line x1="432.3" y1="222.6" x2="510.9" y2="222.6" stroke="#777" stroke-width="1.2" />
<line x1="440.3" y1="222.6" x2="440.3" y2="221.4" stroke="#aaa" stroke-width="0.6" />
<line x1="448.3" y1="222.6" x2="448.3" y2="221.4" stroke="#aaa" stroke-width="0.6" />
<line x1="456.3" y1="222.6" x2="456.3" y2="221.4" stroke="#aaa" stroke-width="0.6" />
<line x1="464.3" y1="222.6" x2="464.3" y2="221.4" stroke="#aaa" stroke-width="0.6" />
<line x1="472.3" y1="222.6" x2="472.3" y2="221.4" stroke="#aaa" stroke-width="0.6" />
<line x1="480.3" y1="222.6" x2="480.3" y2="221.4" stroke="#aaa" stroke-width="0.6" />
<line x1="488.3" y1="222.6" x2="488.3" y2="221.4" stroke="#aaa" stroke-width="0.6" />
<line x1="496.3" y1="222.6" x2="496.3" y2="221.4" stroke="#aaa" stroke-width="0.6" />
<line x1="504.3" y1="222.6" x2="504.3" y2="221.4" stroke="#aaa" stroke-width="0.6" />
<text x="470.40000000000003" y="238" style="font-family:'Liberation Serif',serif;font-size:11px;font-weight:normal" fill="#111" stroke="#111" stroke-width="0.2" text-anchor="middle" >CCL2<tspan style="font-family:'Liberation Sans',sans-serif;font-size:6.5px" stroke-width="0.1" dy="-3.3">AF647</tspan></text>
<text x="170.5" y="140.6" style="font-family:'Liberation Serif',serif;font-size:7px;font-weight:bold" fill="#555" text-anchor="end" >100</text>
<line x1="172.6" y1="138.1" x2="174.6" y2="138.1" stroke="#999" stroke-width="0.7" />
<text x="170.5" y="157.5" style="font-family:'Liberation Serif',serif;font-size:7px;font-weight:bold" fill="#555" text-anchor="end" >80</text>
<line x1="172.6" y1="155.0" x2="174.6" y2="155.0" stroke="#999" stroke-width="0.7" />
<text x="170.5" y="174.39999999999998" style="font-family:'Liberation Serif',serif;font-size:7px;font-weight:bold" fill="#555" text-anchor="end" >60</text>
<line x1="172.6" y1="171.89999999999998" x2="174.6" y2="171.89999999999998" stroke="#999" stroke-width="0.7" />
<text x="170.5" y="191.3" style="font-family:'Liberation Serif',serif;font-size:7px;font-weight:bold" fill="#555" text-anchor="end" >40</text>
<line x1="172.6" y1="188.8" x2="174.6" y2="188.8" stroke="#999" stroke-width="0.7" />
<text x="170.5" y="208.2" style="font-family:'Liberation Serif',serif;font-size:7px;font-weight:bold" fill="#555" text-anchor="end" >20</text>
<line x1="172.6" y1="205.7" x2="174.6" y2="205.7" stroke="#999" stroke-width="0.7" />
<text x="170.5" y="225.1" style="font-family:'Liberation Serif',serif;font-size:7px;font-weight:bold" fill="#555" text-anchor="end" >0</text>
<line x1="172.6" y1="222.6" x2="174.6" y2="222.6" stroke="#999" stroke-width="0.7" />
<text x="0" y="0" style="font-family:'Liberation Serif',serif;font-size:11px;font-weight:normal" fill="#111" stroke="#111" stroke-width="0.2" text-anchor="middle" transform="translate(160.5,181) rotate(-90)">% of max.</text>
<path d="M174.7,208.9 L174.8,208.9 L175.3,209.5 L176.0,210.5 L176.6,210.3 L177.1,210.5 L178.2,210.7 L178.7,210.9 L179.4,210.1 L179.8,210.2 L180.3,210.3 L181.0,210.0 L181.6,209.3 L182.0,209.0 L182.5,208.2 L183.0,207.8 L183.1,207.7 L183.5,207.1 L183.9,206.7 L184.2,206.6 L184.2,205.7 L184.6,205.5 L184.9,204.7 L185.4,203.9 L185.4,203.3 L185.6,202.4 L185.8,202.1 L186.2,201.8 L186.5,200.9 L186.5,200.8 L186.4,200.1 L186.7,199.8 L186.9,198.6 L186.9,197.9 L186.9,197.6 L186.8,197.0 L187.0,196.4 L187.1,195.5 L187.2,195.2 L187.2,194.7 L187.3,193.6 L187.5,193.2 L187.5,192.7 L187.8,192.0 L187.9,190.9 L187.9,190.5 L187.8,189.9 L187.9,189.4 L188.2,188.8 L188.1,188.0 L188.1,187.5 L188.6,187.1 L188.3,186.6 L188.4,185.8 L188.6,185.6 L188.6,184.7 L188.9,184.2 L188.8,183.5 L188.8,182.7 L188.8,182.4 L189.2,181.4 L189.2,180.5 L188.9,180.2 L189.1,179.5 L189.5,178.7 L189.2,178.2 L189.5,177.5 L189.3,177.2 L189.5,176.3 L189.7,176.0 L189.8,175.4 L189.9,175.0 L190.2,174.0 L190.0,173.8 L190.1,173.1 L190.4,172.4 L190.6,171.9 L190.3,171.2 L190.6,170.5 L190.6,169.7 L190.9,169.3 L190.8,168.4 L190.9,167.8 L191.1,167.1 L191.0,166.5 L191.2,166.4 L191.3,165.6 L191.7,165.0 L191.5,164.7 L192.0,163.5 L191.8,163.3 L192.1,162.6 L192.2,161.9 L192.3,161.3 L192.3,161.0 L192.7,160.4 L192.6,159.4 L192.8,158.8 L193.0,158.3 L192.8,157.3 L193.2,156.5 L193.1,155.7 L193.4,155.8 L193.7,154.5 L193.7,154.1 L193.8,153.5 L194.1,153.4 L193.8,152.6 L193.9,151.5 L194.1,151.5 L194.5,150.6 L194.3,150.0 L194.5,150.0 L194.7,148.8 L195.1,148.3 L195.0,147.3 L195.4,147.1 L195.7,146.4 L195.7,146.2 L195.9,145.5 L196.2,144.4 L197.2,145.2 L197.1,145.4 L197.1,145.7 L197.3,146.2 L197.4,146.8 L197.3,147.4 L197.5,147.8 L197.4,148.2 L197.9,149.0 L197.6,149.5 L197.9,150.8 L197.9,151.4 L198.2,151.7 L198.4,152.5 L198.2,153.4 L198.6,154.2 L198.6,155.3 L199.0,156.2 L198.8,156.5 L199.1,156.5 L198.8,157.0 L198.9,157.5 L199.1,158.6 L199.2,158.9 L199.2,159.2 L199.7,159.7 L199.6,160.9 L199.8,161.4 L199.7,162.1 L200.0,162.7 L200.2,162.8 L200.3,163.7 L200.3,164.2 L200.5,164.6 L200.4,165.4 L200.4,166.2 L200.6,167.2 L200.6,167.7 L200.7,168.1 L201.0,168.7 L200.8,169.4 L201.2,169.9 L201.2,170.8 L201.3,171.1 L201.1,171.7 L201.3,172.5 L201.2,173.2 L201.5,173.6 L201.6,174.7 L201.5,175.3 L201.7,175.8 L201.6,176.7 L201.9,177.3 L201.8,177.6 L202.1,178.0 L202.0,179.1 L202.4,179.5 L202.1,180.2 L202.5,180.7 L202.4,181.5 L202.5,182.0 L202.5,183.2 L202.7,183.6 L202.6,184.2 L202.4,185.0 L202.8,185.3 L202.8,185.9 L202.7,186.3 L202.9,187.2 L202.9,187.3 L203.0,188.2 L203.0,188.9 L203.2,189.0 L203.0,190.2 L203.2,190.2 L203.3,191.5 L203.2,192.1 L203.1,192.9 L203.4,192.9 L203.6,193.8 L203.7,194.5 L203.7,194.7 L203.8,194.9 L203.8,195.9 L203.6,196.5 L203.7,196.8 L204.0,197.1 L203.8,198.1 L203.8,198.6 L204.2,199.3 L204.1,200.1 L204.4,200.6 L204.4,201.2 L204.6,201.2 L204.5,201.8 L204.4,202.6 L204.9,203.6 L204.6,203.7 L204.9,204.9 L205.1,205.6 L204.9,206.3 L205.1,206.7 L205.5,207.4 L205.3,208.0 L205.5,208.1 L205.6,208.9 L205.9,209.5 L206.0,210.4 L205.9,210.5 L206.2,211.3 L206.1,211.5 L206.6,212.4 L206.6,212.9 L207.1,214.0 L207.2,214.4 L207.2,215.1 L207.4,215.9 L207.8,216.6 L208.1,216.8 L208.4,217.7 L208.6,218.0 L208.8,218.3 L209.2,219.0 L209.5,219.4 L210.1,219.6 L210.7,219.9 L211.1,220.5 L211.5,220.7 L212.1,221.0 L212.6,221.3 L213.2,221.5 L213.8,221.7 L214.4,221.9 L214.9,222.0 L215.1,222.2 L215.4,222.3 L215.5,222.4 L215.8,222.5 L216.2,222.5 L216.8,222.5 L217.7,222.5 L219.0,222.6 L220.6,222.6 L221.0,222.6 L221.4,222.6 L221.8,222.6 L222.3,222.7 L222.8,222.6 L223.3,222.7 L223.8,222.7 L224.3,222.6 L224.9,222.7 L225.5,222.7 L226.1,222.6 L226.7,222.7 L227.4,222.6 L228.0,222.7 L228.7,222.7 L229.4,222.7 L230.1,222.7 L230.8,222.7 L231.5,222.7 L232.2,222.7 L232.9,222.7 L233.7,222.7 L234.4,222.7 L235.1,222.7 L235.9,222.7 L236.6,222.7 L237.4,222.7 L238.1,222.7 L238.8,222.7 L239.5,222.7 L240.3,222.7 L241.0,222.7 L241.7,222.7 L242.5,222.7 L243.1,222.7 L243.8,222.7 L244.5,222.6 L245.1,222.7 L245.8,222.7 L246.4,222.7 L247.0,222.7 L247.6,222.7 L248.2,222.7 L248.7,222.7 L249.2,222.7 L249.7,222.7 L250.2,222.7 L250.7,222.7 L251.2,222.7 L251.6,222.7 L251.9,222.7 L252.3,222.7 L252.6,222.7" stroke="#aaa" stroke-width="0.9" fill="none" stroke-linejoin="round"/>
<path d="M174.6,208.9 L174.9,209.3 L175.2,210.0 L175.8,210.2 L176.5,210.4 L177.1,210.5 L177.9,210.7 L178.6,210.5 L179.3,210.5 L179.6,210.2 L180.7,209.6 L181.1,210.2 L181.5,209.7 L182.0,209.1 L182.8,208.6 L182.9,208.1 L183.2,208.0 L183.3,207.0 L183.6,206.7 L184.2,206.4 L184.5,205.8 L184.6,205.5 L184.8,205.1 L185.4,204.0 L185.4,203.7 L185.9,202.9 L185.8,202.2 L185.9,201.6 L186.3,201.4 L186.4,200.1 L186.7,200.2 L186.6,199.0 L186.8,198.8 L186.9,198.7 L187.1,197.3 L187.1,197.0 L187.2,196.3 L187.2,195.8 L187.1,195.0 L187.5,194.2 L187.3,194.2 L187.6,193.3 L187.5,192.3 L187.6,192.3 L187.9,191.6 L187.8,190.6 L188.0,190.3 L187.9,189.7 L188.1,188.5 L188.2,188.1 L188.4,188.0 L188.4,187.2 L188.4,186.7 L188.3,186.0 L188.4,185.3 L188.5,184.5 L188.5,183.9 L188.8,183.4 L188.8,182.8 L189.1,182.0 L189.0,181.5 L189.3,180.7 L189.2,180.0 L189.1,179.8 L189.3,178.8 L189.1,178.6 L189.4,177.9 L189.5,177.2 L189.6,176.9 L189.9,175.9 L189.8,175.1 L190.0,174.4 L189.9,174.4 L189.8,173.7 L190.2,172.9 L190.2,172.0 L190.6,171.9 L190.6,170.7 L190.7,170.2 L190.5,169.9 L190.9,168.9 L191.0,168.7 L191.2,168.4 L191.2,167.3 L191.5,167.0 L191.2,166.5 L191.6,165.4 L191.4,164.7 L191.7,164.3 L191.7,163.7 L191.7,163.3 L191.9,162.5 L192.0,162.1 L192.4,161.1 L192.5,161.0 L192.5,160.1 L192.7,159.4 L192.8,159.1 L193.0,157.9 L192.8,157.7 L193.1,157.0 L193.1,156.0 L193.3,155.6 L193.7,154.8 L193.7,154.0 L193.6,153.9 L193.7,153.3 L194.1,152.1 L194.3,151.6 L194.2,151.1 L194.5,150.7 L194.6,150.1 L194.6,149.7 L194.5,149.0 L195.2,148.2 L195.3,147.6 L195.3,146.5 L195.5,146.2 L195.6,146.0 L195.8,145.6 L196.5,144.6 L197.0,145.1 L197.1,145.8 L197.4,146.1 L197.1,146.3 L197.3,147.1 L197.7,147.8 L197.8,148.3 L197.9,148.9 L197.6,149.1 L197.9,149.9 L198.1,150.5 L198.3,150.8 L198.2,152.2 L198.1,152.3 L198.6,153.7 L198.3,153.8 L198.8,155.1 L198.8,155.9 L199.0,156.5 L198.7,156.4 L199.1,157.7 L199.2,157.8 L199.1,158.3 L199.0,159.2 L199.2,159.6 L199.4,160.0 L199.5,160.7 L199.4,161.7 L199.5,161.7 L199.6,162.6 L199.9,163.1 L199.7,164.0 L199.8,164.6 L199.9,165.5 L199.9,165.6 L200.1,166.4 L200.3,167.3 L200.4,167.8 L200.2,168.7 L200.3,168.9 L200.5,170.1 L200.5,170.3 L200.9,171.4 L200.7,171.3 L200.9,172.5 L200.8,173.1 L200.9,173.3 L201.0,174.2 L201.1,174.9 L200.9,175.3 L201.2,175.6 L201.5,176.4 L201.2,177.6 L201.6,178.3 L201.4,179.0 L201.4,179.5 L201.8,179.7 L201.5,180.8 L201.9,181.5 L202.0,181.9 L201.8,182.3 L201.8,183.6 L201.7,183.6 L201.9,184.1 L202.0,184.8 L201.9,185.7 L202.2,186.3 L202.3,186.9 L202.5,187.1 L202.2,187.6 L202.3,188.7 L202.6,189.0 L202.3,189.4 L202.5,189.8 L202.7,191.2 L202.6,191.6 L202.9,192.2 L202.6,193.2 L203.1,193.0 L203.0,193.8 L202.7,194.2 L202.8,195.1 L202.9,195.1 L203.0,196.2 L203.2,196.6 L203.2,196.8 L203.1,197.5 L203.2,198.1 L203.6,198.9 L203.6,199.6 L203.6,199.9 L203.9,200.7 L203.8,201.2 L203.9,201.7 L204.2,202.2 L204.3,203.3 L204.4,203.4 L204.3,204.7 L204.3,204.7 L204.6,205.4 L204.7,206.0 L204.9,206.8 L204.6,207.7 L204.9,208.2 L205.1,209.1 L205.2,209.3 L205.1,210.0 L205.3,210.6 L205.6,211.0 L205.5,211.5 L205.8,212.1 L206.3,212.6 L206.2,213.2 L206.6,214.0 L206.9,215.1 L206.9,215.8 L207.2,216.0 L207.5,216.9 L207.8,217.0 L208.0,217.8 L208.4,217.8 L208.5,218.2 L209.2,219.0 L209.7,219.6 L210.0,220.0 L210.5,220.4 L211.1,220.2 L211.5,220.7 L212.0,221.0 L212.6,221.2 L213.2,221.4 L213.8,221.6 L214.3,221.8 L214.5,221.9 L214.7,222.0 L215.0,222.0 L215.2,222.1 L215.6,222.2 L216.2,222.2 L217.1,222.2 L218.4,222.3 L220.0,222.3 L220.4,222.4 L220.8,222.3 L221.2,222.3 L221.6,222.3 L222.2,222.3 L222.7,222.4 L223.2,222.3 L223.7,222.3 L224.3,222.4 L224.9,222.4 L225.5,222.4 L226.2,222.3 L226.8,222.4 L227.5,222.4 L228.1,222.4 L228.8,222.4 L229.4,222.4 L230.2,222.4 L230.9,222.4 L231.6,222.4 L232.3,222.4 L233.0,222.3 L233.8,222.4 L234.6,222.4 L235.3,222.4 L236.0,222.4 L236.8,222.4 L237.5,222.4 L238.2,222.4 L239.0,222.4 L239.7,222.4 L240.4,222.4 L241.1,222.4 L241.8,222.4 L242.5,222.4 L243.2,222.4 L243.9,222.4 L244.5,222.4 L245.2,222.4 L245.8,222.4 L246.4,222.4 L247.0,222.4 L247.6,222.4 L248.1,222.4 L248.6,222.4 L249.2,222.4 L249.6,222.4 L250.1,222.4 L250.5,222.4 L250.9,222.4 L251.3,222.4 L251.7,222.4 L252.0,222.4" stroke="#404040" stroke-width="0.9" fill="none" stroke-linejoin="round"/>
<text x="207" y="187" style="font-family:'Liberation Serif',serif;font-size:9.5px;font-weight:normal" fill="#111" stroke="#111" stroke-width="0.2" text-anchor="start" >WT</text>
<text x="207" y="199" style="font-family:'Liberation Serif',serif;font-size:9.5px;font-weight:normal" fill="#111" stroke="#111" stroke-width="0.2" text-anchor="start" >KO</text>
<text x="237.8" y="150.2" style="font-family:'Liberation Serif',serif;font-size:10.5px;font-weight:normal" fill="#111" stroke="#111" stroke-width="0.2" text-anchor="start" >FO</text>
<path d="M266.0,222.3 L266.4,222.4 L266.9,222.7 L267.6,222.5 L268.4,221.4 L268.6,221.1 L268.7,220.7 L268.7,220.6 L269.2,219.8 L269.2,219.3 L269.4,218.6 L269.7,218.2 L269.7,218.0 L270.0,217.1 L270.5,216.5 L270.4,216.3 L270.9,215.5 L270.8,214.8 L271.2,213.7 L271.4,213.7 L271.6,212.8 L271.6,212.1 L271.7,211.5 L272.1,211.1 L272.2,210.2 L272.2,209.2 L272.9,208.5 L272.9,207.9 L273.0,208.0 L273.0,207.4 L273.1,206.4 L273.8,206.1 L273.7,205.2 L274.0,204.8 L274.2,203.9 L274.1,203.4 L274.5,202.6 L274.9,201.6 L274.9,201.2 L275.1,201.2 L275.0,200.2 L275.3,199.5 L275.3,199.0 L275.9,198.4 L275.7,198.0 L276.0,196.8 L276.3,196.5 L276.4,196.5 L276.6,195.9 L276.7,195.2 L276.7,194.3 L277.4,194.0 L277.8,193.1 L277.9,192.5 L278.4,191.6 L278.6,191.8 L278.9,191.0 L279.7,191.1 L279.7,189.9 L279.9,189.4 L280.7,189.6 L280.8,188.9 L281.4,187.9 L281.8,188.2 L281.8,187.5 L282.4,186.5 L282.8,185.7 L282.8,185.3 L283.0,185.3 L283.2,184.6 L283.7,183.7 L283.4,183.5 L283.5,183.2 L283.8,182.1 L284.1,181.9 L284.5,181.1 L284.3,180.2 L284.7,179.4 L285.0,179.4 L284.8,178.3 L285.0,178.0 L285.0,177.4 L285.2,176.9 L285.6,176.0 L285.5,174.8 L285.9,175.2 L286.2,174.4 L286.0,173.1 L286.2,173.1 L286.4,172.1 L286.9,172.0 L286.9,171.1 L287.1,170.6 L287.4,169.8 L287.5,169.1 L287.8,168.2 L288.0,168.1 L288.2,167.0 L288.8,166.8 L288.8,166.0 L289.3,165.9 L289.3,165.2 L289.6,164.5 L289.6,163.9 L289.9,163.4 L290.1,162.9 L290.5,162.8 L290.3,161.4 L290.5,160.9 L291.0,161.1 L290.9,160.2 L291.5,160.0 L291.6,159.0 L291.9,158.1 L291.9,157.5 L292.3,157.2 L292.5,156.5 L292.2,155.4 L292.9,155.2 L292.8,154.5 L293.2,154.3 L293.9,153.1 L294.5,152.5 L294.6,152.8 L295.4,153.0 L295.5,154.1 L295.5,154.4 L295.7,154.7 L295.6,155.1 L296.1,155.9 L295.8,156.3 L296.1,156.9 L296.2,157.9 L296.0,158.2 L296.5,158.9 L296.3,160.1 L296.6,161.0 L296.9,160.6 L297.1,161.3 L297.4,162.3 L297.5,162.1 L297.3,163.4 L297.6,163.3 L297.7,163.8 L298.2,165.1 L298.3,165.0 L298.8,165.6 L298.9,166.7 L299.4,166.9 L299.4,168.0 L299.8,168.8 L299.9,169.1 L299.8,170.4 L299.8,170.2 L300.4,171.1 L300.0,171.2 L300.2,171.8 L300.7,172.8 L300.9,173.3 L300.8,173.6 L301.0,174.3 L300.8,175.0 L301.1,175.6 L301.0,175.7 L301.7,176.7 L301.5,177.1 L301.8,178.5 L301.7,178.8 L302.0,179.7 L302.2,179.8 L302.2,180.9 L302.2,181.7 L302.4,181.6 L302.8,182.9 L303.0,183.4 L303.3,184.0 L303.0,184.7 L303.3,184.6 L303.4,185.0 L304.0,185.9 L303.8,186.2 L304.4,187.3 L304.7,187.4 L304.4,188.2 L304.7,188.6 L304.9,189.8 L305.1,189.9 L305.5,190.7 L305.5,191.4 L306.0,191.8 L306.2,192.0 L306.5,192.8 L306.6,193.1 L307.2,194.3 L307.1,194.8 L307.7,194.9 L307.6,196.0 L307.8,196.6 L308.4,196.4 L308.2,197.2 L308.7,198.2 L308.9,198.9 L308.9,198.9 L309.5,199.8 L309.3,200.5 L309.9,201.0 L309.9,201.3 L310.6,202.2 L310.6,202.8 L311.1,203.3 L311.2,204.0 L311.1,204.0 L311.6,204.3 L312.0,204.8 L312.2,205.6 L312.3,206.5 L312.4,206.9 L313.1,207.9 L313.0,207.8 L313.5,208.2 L313.9,208.7 L314.0,209.4 L313.9,209.5 L314.2,210.4 L314.6,211.5 L315.1,211.1 L315.5,211.8 L315.7,212.9 L316.3,213.7 L316.4,213.7 L316.7,214.2 L317.3,214.9 L317.6,215.2 L318.0,216.5 L318.0,216.7 L318.4,216.6 L318.9,217.3 L319.4,218.1 L319.7,219.0 L319.7,218.5 L320.0,219.3 L320.7,219.9 L320.8,220.4 L321.4,220.7 L321.7,221.3 L321.9,221.6 L322.2,221.9 L322.9,222.1 L324.0,222.3 L324.4,222.3 L324.9,222.4 L325.4,222.4 L326.0,222.5 L326.6,222.5 L327.2,222.5 L327.9,222.5 L328.6,222.5 L329.3,222.5 L330.1,222.5 L330.8,222.5 L331.6,222.5 L332.3,222.5 L333.0,222.5 L333.7,222.5 L334.4,222.5 L335.1,222.4 L335.7,222.4 L336.3,222.4 L336.8,222.4 L337.3,222.4 L337.6,222.4 L338.0,222.4" stroke="#aaa" stroke-width="0.9" fill="none" stroke-linejoin="round"/>
<path d="M262.0,222.4 L262.3,222.4 L262.7,222.3 L263.2,222.3 L263.6,222.3 L264.2,222.3 L264.7,222.3 L265.4,222.3 L266.0,222.2 L266.7,222.2 L267.3,222.2 L268.0,222.1 L268.8,222.2 L269.5,222.2 L270.2,222.0 L270.9,222.0 L271.6,222.0 L272.3,222.0 L273.0,221.9 L273.7,221.8 L274.3,221.8 L274.9,221.7 L275.5,221.6 L276.1,221.5 L276.8,221.4 L277.4,221.3 L278.1,221.2 L278.7,221.1 L279.3,220.9 L280.0,220.9 L280.6,220.7 L281.1,220.5 L281.9,220.4 L282.4,220.1 L282.9,219.8 L283.8,220.0 L283.9,219.9 L284.7,219.6 L285.3,219.4 L285.9,219.5 L286.2,219.0 L286.7,218.5 L287.3,218.5 L287.8,217.9 L288.6,218.0 L289.0,217.8 L289.3,217.3 L289.8,216.7 L290.2,216.9 L291.1,216.1 L291.2,215.6 L291.6,215.7 L292.4,214.8 L292.5,215.0 L293.0,214.6 L293.5,213.8 L293.8,213.1 L294.4,212.5 L295.0,211.7 L295.4,211.8 L295.5,210.8 L295.6,210.3 L296.2,210.3 L296.1,209.7 L296.7,209.1 L296.6,208.7 L297.0,208.7 L297.3,208.1 L297.8,207.3 L297.7,206.9 L297.9,206.2 L298.2,205.2 L298.6,204.7 L299.1,204.5 L299.3,204.2 L299.5,203.3 L299.6,202.8 L299.9,201.7 L300.1,201.3 L300.3,200.9 L300.6,200.2 L300.9,199.8 L300.8,198.5 L300.9,197.9 L301.6,197.4 L301.6,197.0 L301.8,196.2 L302.2,195.6 L302.4,195.4 L302.1,194.5 L302.3,194.3 L302.5,193.2 L303.0,192.9 L303.1,192.1 L303.2,191.3 L303.3,190.8 L303.6,190.1 L303.5,189.5 L303.8,189.3 L303.7,189.0 L304.2,187.8 L304.0,187.6 L304.6,186.4 L304.6,186.4 L304.8,185.2 L304.5,184.5 L304.7,184.6 L305.2,183.6 L304.9,182.8 L305.0,182.5 L305.4,182.0 L305.4,181.1 L305.5,180.4 L305.6,180.0 L305.9,179.1 L305.9,178.4 L305.7,178.0 L306.0,177.1 L305.9,176.9 L306.5,176.7 L306.1,175.6 L306.4,175.1 L306.4,174.8 L306.9,173.9 L306.7,173.0 L306.7,172.9 L307.0,172.2 L307.4,170.9 L307.2,170.5 L307.6,170.2 L307.5,169.3 L307.6,168.7 L308.0,167.8 L308.1,167.8 L308.1,167.2 L308.4,165.8 L308.5,165.3 L308.5,164.6 L308.3,164.3 L308.7,163.9 L308.5,163.5 L309.0,162.6 L308.6,161.8 L308.9,161.4 L309.3,161.1 L309.4,160.1 L309.1,160.2 L309.3,159.2 L309.3,158.6 L309.7,158.2 L309.9,157.4 L310.0,156.1 L310.4,155.6 L310.5,154.9 L310.6,154.0 L310.8,153.5 L310.9,152.7 L311.3,152.1 L311.7,151.9 L311.7,151.6 L311.6,150.9 L312.3,150.9 L312.3,150.5 L313.0,150.1 L313.5,150.4 L314.1,150.7 L314.5,151.1 L315.0,152.1 L315.2,152.6 L315.6,152.3 L315.7,153.1 L315.8,153.8 L315.7,153.8 L316.1,154.6 L316.2,154.7 L316.4,155.4 L316.8,156.0 L316.9,156.7 L316.9,156.8 L317.5,158.1 L317.8,158.4 L317.6,159.7 L318.1,160.1 L318.3,161.0 L317.9,161.4 L318.1,161.5 L318.5,162.7 L318.2,162.8 L318.3,163.5 L318.3,163.8 L318.6,164.5 L318.7,165.1 L319.0,166.0 L319.1,166.5 L318.8,166.6 L319.0,167.6 L319.2,168.0 L319.4,168.6 L319.0,169.0 L319.2,170.2 L319.6,170.3 L319.3,171.1 L319.7,172.4 L319.5,172.3 L320.0,173.8 L319.9,174.0 L320.0,175.0 L319.9,175.2 L320.0,176.2 L320.0,176.9 L320.0,177.8 L320.1,177.8 L320.6,179.1 L320.6,179.6 L320.6,180.3 L320.6,180.2 L320.7,181.5 L320.8,181.4 L320.5,182.6 L320.8,183.4 L321.1,183.6 L321.0,184.4 L321.1,184.8 L321.2,185.2 L321.4,186.4 L321.4,186.8 L321.2,187.5 L321.5,188.2 L321.2,188.4 L321.5,189.2 L321.4,189.8 L321.6,190.9 L321.9,191.5 L321.5,192.3 L321.9,192.8 L322.0,193.1 L321.9,193.5 L322.1,194.1 L322.2,195.4 L322.3,195.8 L322.4,196.7 L322.5,197.3 L322.3,197.0 L322.5,198.2 L322.7,198.7 L322.5,198.8 L322.8,199.9 L322.9,200.4 L322.9,201.1 L323.1,201.4 L323.1,201.9 L322.7,202.3 L322.9,203.4 L323.0,203.5 L323.3,204.1 L323.2,205.1 L323.1,206.0 L323.4,206.9 L323.4,207.7 L323.4,208.0 L323.5,208.2 L323.6,209.7 L323.7,210.0 L323.9,210.4 L324.0,210.9 L324.0,211.7 L324.3,212.7 L324.3,213.1 L324.5,213.8 L324.2,213.8 L324.6,215.0 L324.9,215.4 L324.5,215.7 L324.9,216.2 L324.7,217.0 L325.0,216.8 L325.5,217.9 L325.2,218.9 L325.5,219.2 L325.8,220.1 L326.0,220.6 L326.5,220.9 L326.9,221.2 L327.3,221.5 L328.0,221.8 L328.4,221.9 L329.0,222.0 L329.6,222.2 L330.2,222.3 L330.9,222.4 L331.7,222.4 L332.4,222.3 L333.2,222.4 L333.9,222.4 L334.7,222.4 L335.4,222.4 L336.0,222.4 L336.6,222.4 L337.2,222.4 L337.6,222.4 L338.0,222.4" stroke="#404040" stroke-width="0.9" fill="none" stroke-linejoin="round"/>
<text x="269" y="179" style="font-family:'Liberation Serif',serif;font-size:9.5px;font-weight:normal" fill="#111" stroke="#111" stroke-width="0.2" text-anchor="start" >KO</text>
<text x="320" y="179" style="font-family:'Liberation Serif',serif;font-size:9.5px;font-weight:normal" fill="#111" stroke="#111" stroke-width="0.2" text-anchor="start" >WT</text>
<text x="321.8" y="150.2" style="font-family:'Liberation Serif',serif;font-size:10.5px;font-weight:normal" fill="#111" stroke="#111" stroke-width="0.2" text-anchor="start" >MZ</text>
<path d="M346.2,222.0 L346.5,222.0 L347.0,221.9 L347.4,221.7 L348.0,221.6 L348.6,221.5 L349.2,221.4 L349.8,221.2 L350.5,221.1 L351.2,221.0 L351.9,220.9 L352.7,220.7 L353.4,220.5 L353.8,220.4 L354.9,219.8 L355.5,219.8 L356.1,220.2 L356.6,219.5 L356.8,220.0 L358.0,219.7 L358.5,218.7 L359.0,219.2 L359.4,218.4 L359.9,218.7 L360.6,217.7 L361.1,217.5 L361.6,217.7 L362.2,216.9 L362.7,216.6 L363.2,217.0 L363.7,216.8 L364.2,216.2 L365.1,215.7 L365.5,215.9 L366.2,216.0 L366.7,215.1 L367.0,214.9 L367.6,214.6 L368.1,214.2 L368.6,213.2 L368.8,213.7 L369.5,213.2 L369.6,212.9 L369.8,212.2 L370.6,211.3 L370.4,210.7 L370.8,210.8 L371.5,210.0 L371.5,209.6 L371.9,208.6 L372.5,208.5 L372.9,208.1 L372.9,207.1 L373.2,206.6 L373.4,206.4 L374.1,205.7 L374.2,205.3 L374.6,204.7 L374.8,203.7 L374.8,203.0 L375.2,202.9 L375.6,202.2 L375.5,202.1 L375.9,201.5 L376.1,201.1 L376.0,200.3 L376.0,199.7 L376.7,199.0 L376.5,198.5 L376.6,197.8 L376.8,197.1 L377.4,196.8 L377.6,195.9 L377.5,194.9 L377.9,194.7 L377.8,193.7 L378.0,193.0 L378.0,192.3 L378.3,191.8 L378.6,191.7 L378.8,191.1 L378.5,190.3 L379.0,190.0 L379.0,189.5 L378.7,188.6 L379.1,188.6 L379.4,187.7 L379.2,186.7 L379.4,186.4 L379.7,185.6 L379.4,184.8 L379.4,184.9 L380.0,183.7 L379.6,183.5 L379.8,182.9 L380.3,182.4 L380.0,181.6 L380.1,181.1 L380.2,180.6 L380.5,180.0 L380.4,179.4 L380.6,178.1 L380.8,177.5 L380.6,176.6 L381.0,176.1 L380.8,175.9 L380.9,175.4 L381.1,174.4 L381.5,174.2 L381.5,173.8 L381.5,173.1 L381.6,172.2 L381.5,171.3 L381.8,170.6 L381.9,170.5 L382.0,169.2 L381.8,168.7 L382.1,168.5 L382.2,167.5 L382.4,166.8 L382.5,166.2 L382.5,165.2 L382.4,164.7 L382.9,164.5 L382.7,163.6 L382.9,162.8 L382.8,162.5 L382.9,161.3 L383.0,160.7 L383.1,160.0 L383.4,159.5 L383.5,159.3 L383.6,158.7 L383.7,158.0 L383.7,157.8 L383.6,157.3 L383.9,157.1 L384.0,156.3 L384.1,155.6 L384.1,154.7 L384.5,154.0 L384.4,153.3 L385.0,152.1 L385.1,151.5 L384.9,150.5 L384.9,150.4 L385.4,150.0 L385.6,149.4 L385.7,149.3 L385.8,148.9 L386.0,148.8 L386.0,148.6 L386.8,148.4 L387.3,148.8 L387.2,149.4 L387.7,150.0 L388.4,151.3 L388.4,151.7 L388.4,152.8 L388.2,153.1 L388.3,153.7 L388.9,153.7 L388.8,154.2 L388.6,154.7 L388.9,155.7 L388.8,155.9 L389.0,156.5 L389.3,157.2 L389.1,158.1 L389.4,158.2 L389.4,159.4 L389.2,159.8 L389.6,160.2 L389.5,160.8 L389.7,161.7 L389.9,162.2 L390.0,163.1 L390.2,164.1 L390.0,165.0 L390.3,165.1 L390.3,166.2 L390.5,166.7 L390.4,167.4 L390.5,168.0 L390.7,168.1 L390.9,168.8 L391.0,169.5 L391.3,170.2 L390.9,171.1 L391.0,170.9 L391.5,171.7 L391.2,172.3 L391.6,173.5 L391.4,173.6 L391.5,174.1 L391.8,175.2 L392.3,176.0 L392.3,176.6 L392.4,177.3 L392.2,177.7 L392.4,178.1 L392.8,179.1 L392.5,179.8 L392.9,180.2 L392.9,180.7 L392.9,181.4 L393.1,182.4 L393.1,183.0 L393.4,183.6 L393.7,183.8 L393.8,184.4 L393.6,184.7 L393.5,185.6 L393.6,185.6 L393.7,186.8 L393.9,187.3 L394.4,188.2 L394.2,189.1 L394.8,189.7 L394.6,190.2 L394.9,191.1 L395.1,191.1 L395.2,191.6 L395.0,192.5 L395.2,193.0 L395.4,193.9 L395.6,194.3 L396.0,194.5 L396.1,195.1 L396.0,195.3 L396.3,196.5 L396.5,196.5 L396.6,197.2 L396.7,198.1 L396.7,198.4 L397.2,198.7 L397.5,199.4 L397.5,200.0 L397.9,200.7 L398.1,201.3 L398.4,202.0 L398.3,202.6 L398.6,203.0 L399.2,203.8 L399.3,204.0 L399.5,204.6 L399.5,205.2 L399.6,206.4 L400.4,206.5 L400.1,207.4 L400.7,207.3 L400.9,207.8 L400.9,209.0 L401.4,209.1 L401.6,210.3 L401.9,210.6 L401.9,210.8 L402.2,211.9 L402.7,212.4 L402.9,213.1 L403.2,213.5 L403.6,214.1 L403.9,215.1 L404.1,215.4 L404.3,215.7 L404.3,215.8 L404.8,216.3 L405.1,217.0 L405.4,217.6 L405.5,218.0 L406.0,219.1 L406.1,219.0 L406.4,219.6 L406.9,220.3 L407.4,220.7 L407.8,220.9 L408.5,221.1 L409.4,221.4 L409.8,221.5 L410.3,221.6 L410.8,221.6 L411.3,221.7 L412.0,221.8 L412.6,221.9 L413.2,221.9 L413.9,222.0 L414.6,222.0 L415.3,222.1 L416.0,222.1 L416.7,222.1 L417.5,222.1 L418.2,222.2 L418.9,222.2 L419.6,222.2 L420.3,222.2 L421.0,222.2 L421.6,222.3 L422.2,222.2 L422.8,222.2 L423.3,222.3 L423.8,222.3 L424.3,222.2 L424.7,222.3 L425.0,222.3" stroke="#aaa" stroke-width="0.9" fill="none" stroke-linejoin="round"/>
<path d="M346.2,221.6 L346.5,221.5 L347.0,221.4 L347.4,221.3 L348.0,221.1 L348.5,220.9 L349.2,220.8 L349.8,220.7 L350.6,220.6 L351.1,220.6 L351.9,220.4 L352.5,220.3 L353.5,219.4 L354.2,219.2 L354.7,219.2 L355.3,219.0 L355.8,218.9 L356.3,219.0 L356.9,218.8 L357.7,218.7 L358.7,218.2 L359.3,218.1 L359.9,217.3 L360.2,216.7 L360.6,216.7 L361.2,216.1 L361.8,215.9 L362.1,216.0 L362.9,215.8 L363.1,215.6 L363.7,215.3 L364.3,215.5 L364.9,214.7 L365.4,215.1 L366.0,214.3 L366.6,214.4 L367.4,213.5 L367.6,213.7 L368.3,213.2 L368.7,212.3 L368.7,212.0 L369.2,211.6 L369.6,211.1 L369.8,211.1 L370.5,210.3 L370.5,210.3 L370.8,209.3 L371.4,208.9 L371.9,208.5 L372.1,207.9 L372.2,207.7 L372.7,207.1 L372.9,206.2 L373.4,205.3 L373.5,205.4 L374.2,204.8 L374.2,204.1 L374.5,203.4 L374.5,203.0 L374.8,202.6 L374.8,201.7 L375.1,201.6 L375.5,200.6 L375.8,200.3 L375.8,199.6 L375.8,198.8 L376.0,199.0 L376.7,198.0 L376.9,197.4 L376.9,196.5 L377.0,196.3 L377.1,195.7 L377.3,195.1 L377.4,194.3 L377.7,193.7 L377.6,192.8 L378.2,192.1 L378.2,192.1 L378.4,191.4 L378.6,191.0 L378.5,190.0 L378.8,189.1 L378.8,188.8 L378.9,188.6 L379.2,187.8 L379.2,186.9 L379.3,187.0 L379.4,186.1 L379.4,185.4 L379.3,184.6 L379.7,184.3 L379.4,183.8 L379.9,183.2 L379.7,182.8 L379.8,181.8 L380.0,180.9 L380.0,180.2 L380.0,179.5 L380.4,179.4 L380.3,179.0 L380.5,177.9 L380.8,177.5 L380.7,176.9 L380.9,175.8 L380.7,175.6 L381.1,174.8 L380.9,174.4 L381.0,173.8 L381.3,173.1 L381.1,172.2 L381.6,171.4 L381.3,171.0 L381.8,170.6 L381.6,169.4 L382.0,169.4 L382.0,168.2 L382.2,167.4 L381.9,167.0 L382.5,166.1 L382.1,166.0 L382.6,164.9 L382.3,164.8 L382.9,164.2 L382.7,162.8 L382.9,162.6 L383.1,162.1 L383.0,161.6 L383.1,160.5 L383.2,160.2 L383.3,159.8 L383.2,159.2 L383.6,158.1 L383.3,157.8 L383.7,157.6 L383.7,156.8 L383.9,155.8 L383.9,155.6 L383.8,155.0 L383.9,155.0 L384.2,153.6 L384.1,153.0 L384.7,152.2 L384.9,150.7 L384.7,150.4 L384.9,150.1 L385.0,148.9 L385.3,148.4 L385.2,148.6 L385.6,148.2 L385.5,148.0 L385.9,147.5 L386.1,147.2 L386.6,147.4 L387.1,148.1 L387.3,148.6 L387.7,149.7 L388.0,150.7 L388.4,151.3 L388.4,151.8 L388.8,152.2 L388.5,152.3 L388.8,152.7 L388.6,153.3 L389.0,154.2 L389.2,155.2 L389.1,155.4 L389.1,155.9 L389.1,157.3 L389.3,157.2 L389.7,158.2 L389.7,159.0 L389.9,159.3 L389.8,160.5 L389.7,161.4 L389.9,161.8 L389.9,161.8 L390.0,163.0 L390.6,163.7 L390.6,163.6 L390.9,164.6 L391.1,165.4 L391.2,165.5 L391.2,166.0 L391.6,166.7 L392.1,167.1 L392.2,167.6 L392.1,168.9 L392.4,169.1 L392.9,169.5 L393.0,169.8 L393.4,170.5 L393.6,171.5 L393.6,171.7 L393.9,172.7 L394.3,172.6 L394.5,173.1 L394.8,173.7 L394.8,174.7 L395.3,175.0 L395.6,175.7 L395.9,176.1 L396.2,177.1 L396.1,177.6 L396.6,178.0 L397.1,178.7 L397.0,179.1 L397.3,180.5 L397.4,180.4 L397.8,181.3 L397.8,181.4 L398.3,182.1 L398.3,183.2 L399.0,183.9 L399.3,183.9 L399.2,184.7 L399.7,185.3 L399.9,185.5 L399.9,185.9 L400.1,186.9 L400.3,187.8 L401.0,187.8 L401.3,188.9 L400.9,189.2 L401.2,189.6 L401.2,190.1 L401.3,190.8 L401.7,191.2 L402.0,192.3 L401.9,192.8 L402.0,193.4 L402.4,193.6 L402.5,194.2 L402.3,194.9 L402.4,195.8 L402.6,196.2 L403.0,196.9 L403.3,197.7 L403.3,198.3 L403.5,199.1 L403.6,199.5 L403.7,200.0 L404.1,200.4 L403.9,201.1 L404.1,201.9 L404.5,201.9 L404.4,203.1 L404.7,203.7 L404.9,203.9 L405.3,205.3 L405.1,205.6 L405.6,206.2 L405.8,206.8 L406.2,207.7 L406.1,208.3 L406.5,208.9 L406.9,208.9 L406.6,209.6 L407.2,210.8 L407.1,211.0 L407.6,211.7 L407.7,212.4 L408.0,212.2 L408.3,212.8 L408.4,214.0 L408.6,214.3 L409.2,215.4 L409.6,215.4 L409.8,216.6 L410.3,217.1 L410.2,217.1 L410.5,217.8 L411.1,218.3 L411.1,218.5 L411.7,219.6 L411.7,219.7 L412.5,219.9 L412.7,220.7 L413.0,221.1 L413.4,221.3 L414.0,221.4 L415.0,221.6 L415.4,221.7 L416.0,221.7 L416.6,221.8 L417.2,221.9 L417.9,221.9 L418.6,222.0 L419.4,222.0 L420.2,222.0 L420.9,222.1 L421.6,222.1 L422.4,222.2 L423.0,222.2 L423.6,222.2 L424.2,222.3 L424.6,222.3 L425.0,222.3" stroke="#404040" stroke-width="0.9" fill="none" stroke-linejoin="round"/>
<text x="399.5" y="179" style="font-family:'Liberation Serif',serif;font-size:9.5px;font-weight:normal" fill="#111" stroke="#111" stroke-width="0.2" text-anchor="start" >WT</text>
<text x="378" y="210" style="font-family:'Liberation Serif',serif;font-size:9.5px;font-weight:normal" fill="#111" stroke="#111" stroke-width="0.2" text-anchor="start" >KO</text>
<text x="391.2" y="149.8" style="font-family:'Liberation Serif',serif;font-size:10.8px;font-weight:normal" fill="#111" stroke="#111" stroke-width="0.2" text-anchor="start" >21<tspan style="font-size:5.5px" dy="-3.6" stroke-width="0.08">hi</tspan><tspan dy="3.6">23</tspan><tspan style="font-size:5.5px" dy="-3.6" stroke-width="0.08">hi</tspan></text>
<path d="M432.1,210.4 L432.4,210.8 L433.0,211.3 L433.6,211.3 L434.5,212.0 L434.8,212.8 L435.3,213.4 L436.1,213.1 L436.7,213.2 L437.1,213.1 L437.5,213.2 L438.2,212.8 L439.0,211.8 L439.0,211.3 L439.4,211.1 L439.4,210.6 L439.8,210.7 L440.1,210.3 L440.4,209.6 L440.6,209.0 L441.1,208.2 L441.3,207.8 L441.5,207.2 L441.8,206.7 L442.0,205.7 L442.4,204.9 L443.0,204.5 L443.3,203.1 L443.1,202.8 L443.4,202.8 L443.6,202.3 L443.4,201.2 L443.7,201.0 L443.6,200.4 L443.8,200.3 L444.0,199.3 L444.1,199.2 L444.2,198.3 L444.4,197.6 L444.9,197.4 L444.9,196.5 L445.2,196.4 L445.1,195.2 L445.0,194.8 L445.3,194.4 L445.7,193.7 L445.5,193.2 L445.8,191.8 L445.7,191.9 L446.1,191.1 L446.2,189.9 L446.5,189.5 L446.5,189.0 L446.5,188.4 L446.8,188.0 L446.7,187.4 L446.7,186.3 L446.9,185.5 L447.0,184.8 L447.4,184.8 L447.3,183.6 L447.3,183.6 L447.4,182.5 L447.6,182.2 L447.5,181.5 L447.8,181.1 L447.8,180.7 L447.9,179.9 L447.9,179.4 L448.2,178.2 L448.4,178.1 L448.2,177.5 L448.6,176.4 L448.6,176.1 L448.6,175.2 L448.6,174.9 L448.9,174.4 L448.6,173.5 L449.0,172.6 L448.7,172.5 L449.2,171.7 L449.0,170.9 L449.3,170.0 L449.4,169.9 L449.3,169.5 L449.5,168.8 L449.3,167.8 L449.4,167.3 L449.7,167.1 L449.9,166.5 L450.0,165.8 L450.0,164.7 L449.9,164.5 L449.8,164.3 L450.0,163.2 L450.0,162.7 L450.2,162.3 L450.5,161.2 L450.4,160.2 L450.8,159.9 L450.8,159.1 L450.9,158.7 L450.8,157.5 L451.3,156.9 L451.2,156.3 L451.3,155.9 L451.3,155.0 L451.8,154.2 L451.9,153.6 L452.0,152.8 L451.9,152.5 L452.2,151.9 L452.0,151.4 L452.5,150.6 L452.3,150.4 L452.5,149.5 L452.5,149.4 L453.0,149.1 L452.9,148.8 L453.2,147.9 L453.4,147.0 L454.1,145.8 L454.3,145.1 L454.4,145.0 L454.9,145.5 L455.2,145.7 L455.5,145.5 L455.3,145.8 L455.5,146.9 L455.7,147.2 L455.7,147.4 L456.1,147.9 L456.2,148.8 L456.3,149.1 L456.3,150.8 L456.5,151.2 L456.9,152.5 L456.8,152.8 L456.9,153.2 L456.8,153.5 L456.8,154.3 L456.8,154.3 L457.0,155.5 L457.2,155.8 L457.2,155.9 L457.2,156.3 L457.2,156.9 L457.1,157.5 L457.3,158.4 L457.3,158.7 L457.3,160.0 L457.7,160.5 L457.4,160.6 L457.8,161.1 L457.5,162.2 L457.9,163.1 L457.9,163.2 L457.9,164.4 L458.1,165.1 L458.1,165.6 L458.1,166.0 L458.1,167.1 L458.2,167.0 L458.2,168.4 L458.4,168.8 L458.5,169.7 L458.3,170.3 L458.6,170.4 L458.7,171.5 L458.8,171.8 L458.6,172.6 L458.6,173.4 L458.9,174.0 L459.0,174.1 L458.8,175.0 L459.1,175.8 L459.2,176.5 L459.1,177.1 L459.3,177.5 L459.3,178.4 L459.4,178.5 L459.1,179.6 L459.5,179.8 L459.6,180.9 L459.4,181.1 L459.7,182.1 L459.5,183.0 L459.6,183.6 L460.0,183.7 L460.0,184.7 L460.1,185.3 L460.0,185.7 L460.2,186.5 L460.3,186.9 L460.4,187.5 L460.4,188.9 L460.3,189.3 L460.4,189.5 L460.7,190.4 L460.7,190.7 L460.5,191.5 L460.9,191.9 L460.5,192.8 L460.8,193.7 L461.1,193.8 L461.1,194.5 L461.2,195.3 L460.9,195.7 L461.2,196.2 L461.3,196.9 L461.3,197.2 L461.6,197.8 L461.4,198.2 L461.5,199.7 L461.7,200.4 L462.1,201.0 L462.0,201.7 L462.1,202.6 L462.3,203.0 L462.5,203.6 L462.4,204.2 L462.6,204.9 L462.9,205.1 L462.8,205.8 L463.3,206.5 L463.1,207.4 L463.4,207.9 L463.4,207.8 L463.5,208.3 L463.6,209.1 L463.8,210.0 L463.9,209.8 L463.9,210.7 L464.2,210.9 L464.3,211.4 L464.5,212.0 L464.4,212.7 L464.7,213.6 L465.0,214.5 L465.5,215.1 L465.5,215.6 L465.5,216.3 L465.7,216.6 L466.1,217.0 L466.5,217.7 L466.8,217.8 L466.8,218.4 L467.1,219.1 L467.6,219.9 L467.9,220.0 L468.4,220.5 L468.8,220.9 L469.4,221.2 L470.0,221.5 L470.6,221.8 L471.4,222.0 L471.8,222.1 L472.2,222.2 L472.6,222.3 L472.9,222.4 L473.3,222.4 L473.7,222.5 L474.0,222.6 L474.5,222.5 L475.1,222.6 L475.7,222.6 L476.4,222.7 L477.2,222.6 L478.1,222.7 L479.2,222.6 L480.4,222.7 L480.8,222.7 L481.2,222.7 L481.7,222.7 L482.2,222.7 L482.7,222.8 L483.2,222.7 L483.8,222.7 L484.4,222.8 L485.0,222.7 L485.6,222.7 L486.1,222.8 L486.8,222.7 L487.5,222.8 L488.1,222.8 L488.8,222.8 L489.5,222.8 L490.2,222.8 L490.9,222.7 L491.6,222.8 L492.3,222.8 L493.1,222.8 L493.8,222.8 L494.5,222.8 L495.2,222.8 L496.0,222.8 L496.7,222.8 L497.4,222.8 L498.1,222.8 L498.8,222.8 L499.5,222.8 L500.2,222.8 L500.9,222.8 L501.6,222.8 L502.3,222.8 L502.9,222.8 L503.6,222.8 L504.2,222.8 L504.8,222.8 L505.4,222.8 L506.0,222.8 L506.6,222.8 L507.1,222.8 L507.6,222.8 L508.1,222.8 L508.5,222.8 L508.9,222.8 L509.4,222.8 L509.7,222.8 L510.1,222.8 L510.4,222.8" stroke="#aaa" stroke-width="0.9" fill="none" stroke-linejoin="round"/>
<path d="M431.7,210.0 L432.3,210.2 L432.9,210.8 L433.5,211.0 L433.8,212.0 L434.7,212.4 L435.3,213.0 L435.6,213.2 L436.2,212.8 L436.9,213.3 L437.4,212.6 L437.9,212.0 L438.4,211.3 L438.6,211.1 L438.9,210.8 L439.3,210.6 L439.3,209.8 L439.6,209.5 L440.0,209.2 L440.4,209.1 L440.5,208.0 L440.9,207.2 L441.3,206.6 L441.6,206.3 L441.8,205.9 L442.0,204.4 L442.2,203.7 L442.8,203.2 L442.8,202.9 L442.8,201.9 L443.1,201.7 L443.4,201.0 L443.5,200.8 L443.6,200.2 L443.5,199.7 L444.0,198.7 L443.8,198.4 L443.9,198.2 L444.2,197.1 L444.4,197.1 L444.2,195.8 L444.6,195.9 L444.7,195.0 L444.8,194.4 L445.1,193.8 L445.2,193.1 L445.4,192.7 L445.3,191.7 L445.4,191.5 L445.7,190.2 L445.7,189.8 L445.9,189.1 L446.2,188.6 L446.3,187.8 L446.4,187.3 L446.4,186.6 L446.7,186.1 L446.6,185.3 L446.7,184.6 L446.8,184.0 L446.7,183.5 L446.8,183.1 L446.9,182.7 L447.1,181.6 L447.3,181.0 L447.5,180.4 L447.7,179.6 L447.4,179.6 L447.8,178.5 L447.8,177.9 L447.9,177.2 L447.9,176.9 L448.2,176.0 L448.1,175.6 L448.3,174.9 L448.4,174.6 L448.3,173.6 L448.6,173.1 L448.5,172.6 L448.6,171.8 L448.7,171.0 L448.6,170.1 L448.9,170.2 L449.0,169.7 L449.0,168.4 L448.9,168.5 L448.9,167.8 L449.3,166.7 L449.1,166.5 L449.4,165.4 L449.4,165.0 L449.6,164.7 L449.3,164.0 L449.4,163.9 L449.9,163.2 L449.6,162.6 L449.8,161.7 L450.2,160.9 L450.0,159.9 L450.4,159.1 L450.3,159.1 L450.5,157.7 L450.7,157.2 L450.9,156.5 L451.0,156.2 L450.9,155.3 L451.1,154.3 L451.5,153.8 L451.4,153.0 L451.7,153.1 L451.7,151.8 L451.8,151.5 L451.8,150.7 L451.8,150.7 L452.1,150.1 L452.3,149.3 L452.3,148.8 L452.5,148.4 L452.6,147.9 L452.5,147.4 L452.8,146.0 L453.2,145.2 L453.8,145.1 L454.0,145.1 L454.4,145.3 L454.7,145.0 L455.0,145.3 L454.8,145.5 L455.3,146.3 L455.6,146.4 L455.6,147.0 L455.6,147.5 L455.7,148.7 L455.7,149.1 L456.2,149.9 L456.3,151.0 L456.2,152.2 L456.4,152.3 L456.6,152.5 L456.6,153.5 L456.6,153.7 L456.7,153.9 L456.7,155.0 L456.6,155.4 L456.8,155.8 L456.9,156.3 L456.6,156.9 L457.0,157.2 L456.9,158.3 L456.8,158.9 L457.0,159.1 L457.2,159.9 L457.1,160.2 L457.2,161.4 L457.5,161.9 L457.4,162.5 L457.6,162.7 L457.3,163.9 L457.3,164.3 L457.5,165.3 L457.7,165.4 L457.5,166.3 L457.8,167.0 L457.8,167.3 L457.8,168.6 L457.8,168.8 L457.8,170.1 L458.2,170.3 L458.0,171.0 L458.4,172.1 L458.5,172.6 L458.4,172.6 L458.6,173.2 L458.5,173.9 L458.3,174.8 L458.4,175.6 L458.5,176.0 L458.6,176.1 L458.6,176.9 L458.9,177.9 L459.1,178.1 L458.8,178.9 L458.9,179.4 L459.2,179.9 L459.1,180.7 L459.1,181.4 L459.2,182.6 L459.4,182.9 L459.6,183.4 L459.3,184.4 L459.7,185.1 L459.6,185.7 L459.6,186.6 L459.9,187.1 L459.8,187.8 L459.9,188.5 L459.9,189.2 L459.9,189.4 L460.1,190.1 L460.3,190.9 L460.1,191.4 L460.3,191.8 L460.2,192.8 L460.7,193.2 L460.5,193.3 L460.5,194.1 L460.5,194.7 L460.7,195.2 L460.6,195.5 L461.1,196.4 L460.8,196.8 L460.9,197.3 L461.0,198.3 L461.5,199.0 L461.6,199.9 L461.5,200.4 L461.7,201.0 L461.5,201.8 L462.0,202.6 L461.8,203.4 L461.9,203.8 L462.1,204.2 L462.2,205.1 L462.6,205.9 L462.6,205.8 L462.5,206.3 L462.7,206.9 L462.9,207.4 L463.3,208.1 L463.3,208.9 L463.2,209.2 L463.3,209.7 L463.8,210.2 L463.7,210.7 L463.9,211.1 L464.1,211.7 L464.4,212.7 L464.7,213.4 L464.7,214.1 L464.7,214.3 L465.2,215.1 L465.0,215.9 L465.3,216.1 L465.9,216.6 L466.1,217.1 L466.3,217.6 L466.4,218.3 L466.8,218.4 L467.2,218.9 L467.4,219.9 L467.8,220.1 L468.4,220.5 L469.0,220.8 L469.6,221.1 L470.2,221.3 L471.0,221.6 L471.4,221.7 L471.8,221.8 L472.2,221.9 L472.5,221.9 L472.9,222.0 L473.3,222.0 L473.6,222.1 L474.1,222.2 L474.6,222.1 L475.2,222.2 L476.0,222.2 L476.8,222.2 L477.7,222.3 L478.8,222.3 L480.0,222.3 L480.4,222.3 L480.8,222.3 L481.3,222.3 L481.8,222.3 L482.3,222.3 L482.8,222.4 L483.4,222.4 L484.0,222.3 L484.6,222.3 L485.1,222.3 L485.7,222.4 L486.4,222.4 L487.0,222.4 L487.7,222.4 L488.4,222.4 L489.1,222.4 L489.8,222.3 L490.5,222.4 L491.2,222.4 L491.9,222.4 L492.6,222.4 L493.4,222.4 L494.1,222.4 L494.8,222.4 L495.5,222.4 L496.3,222.4 L497.0,222.4 L497.7,222.4 L498.4,222.4 L499.2,222.4 L499.8,222.4 L500.5,222.4 L501.2,222.4 L501.9,222.4 L502.5,222.4 L503.2,222.4 L503.8,222.4 L504.4,222.4 L505.0,222.4 L505.6,222.4 L506.1,222.4 L506.7,222.4 L507.2,222.4 L507.7,222.4 L508.1,222.4 L508.6,222.4 L509.0,222.4 L509.3,222.4 L509.7,222.4 L510.0,222.4" stroke="#404040" stroke-width="0.9" fill="none" stroke-linejoin="round"/>
<text x="465" y="190" style="font-family:'Liberation Serif',serif;font-size:9.5px;font-weight:normal" fill="#111" stroke="#111" stroke-width="0.2" text-anchor="start" >WT</text>
<text x="465" y="200.7" style="font-family:'Liberation Serif',serif;font-size:9.5px;font-weight:normal" fill="#111" stroke="#111" stroke-width="0.2" text-anchor="start" >KO</text>
<text x="478" y="149.8" style="font-family:'Liberation Serif',serif;font-size:10.8px;font-weight:normal" fill="#111" stroke="#111" stroke-width="0.2" text-anchor="start" >21<tspan style="font-size:5.5px" dy="-3.6" stroke-width="0.08">lo</tspan><tspan dy="3.6">23</tspan><tspan style="font-size:5.5px" dy="-3.6" stroke-width="0.08">lo</tspan></text>
<text x="3.3" y="150" style="font-family:'Liberation Sans',sans-serif;font-size:14px;font-weight:bold" fill="#000" text-anchor="start" >C</text>
<line x1="50.4" y1="150" x2="50.4" y2="240.2" stroke="#333" stroke-width="0.9" />
<line x1="50.4" y1="240.2" x2="115.2" y2="240.2" stroke="#333" stroke-width="0.9" />
<line x1="48.2" y1="240.2" x2="50.4" y2="240.2" stroke="#333" stroke-width="0.7" />
<line x1="49" y1="222.1" x2="50.4" y2="222.1" stroke="#333" stroke-width="0.7" />
<line x1="48.2" y1="204.0" x2="50.4" y2="204.0" stroke="#333" stroke-width="0.7" />
<line x1="49" y1="185.89999999999998" x2="50.4" y2="185.89999999999998" stroke="#333" stroke-width="0.7" />
<line x1="48.2" y1="167.79999999999998" x2="50.4" y2="167.79999999999998" stroke="#333" stroke-width="0.7" />
<line x1="49" y1="149.7" x2="50.4" y2="149.7" stroke="#333" stroke-width="0.7" />
<text x="45" y="243.2" style="font-family:'Liberation Serif',serif;font-size:9px;font-weight:normal" fill="#111" stroke="#111" stroke-width="0.2" text-anchor="end" >0</text>
<text x="45" y="207.0" style="font-family:'Liberation Serif',serif;font-size:9px;font-weight:normal" fill="#111" stroke="#111" stroke-width="0.2" text-anchor="end" >1</text>
<text x="45" y="170.79999999999998" style="font-family:'Liberation Serif',serif;font-size:9px;font-weight:normal" fill="#111" stroke="#111" stroke-width="0.2" text-anchor="end" >2</text>
<rect x="58.2" y="167.1" width="20.3" height="73.1" stroke="#222" stroke-width="0.9" fill="#6e6e6e" />
<line x1="68.3" y1="167.1" x2="68.3" y2="162.2" stroke="#333" stroke-width="0.8" />
<line x1="63.8" y1="162.2" x2="73" y2="162.2" stroke="#333" stroke-width="0.8" />
<rect x="88.1" y="157.4" width="20.4" height="82.79999999999998" stroke="#222" stroke-width="0.9" fill="#fff" />
<line x1="98.3" y1="157.4" x2="98.3" y2="152.3" stroke="#333" stroke-width="0.8" />
<line x1="93.8" y1="152.3" x2="102.8" y2="152.3" stroke="#333" stroke-width="0.8" />
<line x1="69" y1="146.2" x2="97.5" y2="146.2" stroke="#333" stroke-width="0.8" />
<line x1="69" y1="144" x2="69" y2="148.4" stroke="#333" stroke-width="0.9" />
<line x1="97.5" y1="144" x2="97.5" y2="148.4" stroke="#333" stroke-width="0.9" />
<text x="82.2" y="142.4" style="font-family:'Liberation Serif',serif;font-size:9.5px;font-weight:normal" fill="#111" stroke="#111" stroke-width="0.2" text-anchor="middle" >ns</text>
<text x="68.5" y="254.2" style="font-family:'Liberation Serif',serif;font-size:10px;font-weight:normal" fill="#111" stroke="#111" stroke-width="0.2" text-anchor="middle" >WT</text>
<text x="98" y="254.2" style="font-family:'Liberation Serif',serif;font-size:10px;font-weight:normal" fill="#111" stroke="#111" stroke-width="0.2" text-anchor="middle" >KO</text>
<text x="0" y="0" style="font-family:'Liberation Serif',serif;font-size:10.4px;font-weight:normal" fill="#111" stroke="#111" stroke-width="0.2" text-anchor="middle" transform="translate(25.3,195.3) rotate(-90)">MZ B cells/spleen</text>
<text x="0" y="0" style="font-family:'Liberation Serif',serif;font-size:10px;font-weight:normal" fill="#111" stroke="#111" stroke-width="0.2" text-anchor="middle" transform="translate(34.5,197) rotate(-90)">(x10<tspan style="font-size:6px" dy="-4">6</tspan><tspan dy="4">)</tspan></text>
<text x="3.4" y="267" style="font-family:'Liberation Sans',sans-serif;font-size:14px;font-weight:bold" fill="#000" text-anchor="start" >D</text>
<line x1="49.5" y1="274" x2="49.5" y2="363.2" stroke="#333" stroke-width="0.9" />
<line x1="49.5" y1="363.2" x2="113.7" y2="363.2" stroke="#333" stroke-width="0.9" />
<line x1="47.3" y1="363.2" x2="49.5" y2="363.2" stroke="#333" stroke-width="0.7" />
<text x="43.2" y="366.2" style="font-family:'Liberation Serif',serif;font-size:9px;font-weight:normal" fill="#111" stroke="#111" stroke-width="0.2" text-anchor="end" >0</text>
<line x1="47.3" y1="349.28" x2="49.5" y2="349.28" stroke="#333" stroke-width="0.7" />
<text x="43.2" y="352.28" style="font-family:'Liberation Serif',serif;font-size:9px;font-weight:normal" fill="#111" stroke="#111" stroke-width="0.2" text-anchor="end" >1</text>
<line x1="47.3" y1="335.36" x2="49.5" y2="335.36" stroke="#333" stroke-width="0.7" />
<text x="43.2" y="338.36" style="font-family:'Liberation Serif',serif;font-size:9px;font-weight:normal" fill="#111" stroke="#111" stroke-width="0.2" text-anchor="end" >2</text>
<line x1="47.3" y1="321.44" x2="49.5" y2="321.44" stroke="#333" stroke-width="0.7" />
<text x="43.2" y="324.44" style="font-family:'Liberation Serif',serif;font-size:9px;font-weight:normal" fill="#111" stroke="#111" stroke-width="0.2" text-anchor="end" >3</text>
<line x1="47.3" y1="307.52" x2="49.5" y2="307.52" stroke="#333" stroke-width="0.7" />
<text x="43.2" y="310.52" style="font-family:'Liberation Serif',serif;font-size:9px;font-weight:normal" fill="#111" stroke="#111" stroke-width="0.2" text-anchor="end" >4</text>
<line x1="47.3" y1="293.6" x2="49.5" y2="293.6" stroke="#333" stroke-width="0.7" />
<text x="43.2" y="296.6" style="font-family:'Liberation Serif',serif;font-size:9px;font-weight:normal" fill="#111" stroke="#111" stroke-width="0.2" text-anchor="end" >5</text>
<line x1="47.3" y1="279.68" x2="49.5" y2="279.68" stroke="#333" stroke-width="0.7" />
<text x="43.2" y="282.68" style="font-family:'Liberation Serif',serif;font-size:9px;font-weight:normal" fill="#111" stroke="#111" stroke-width="0.2" text-anchor="end" >6</text>
<rect x="58.6" y="348.8624" width="20.3" height="14.337600000000009" stroke="#222" stroke-width="0.9" fill="#fff" />
<rect x="87.6" y="290" width="20.8" height="73.19999999999999" stroke="#333" stroke-width="0.9" fill="#e8e8e8" />
<line x1="93" y1="289" x2="103" y2="289" stroke="#333" stroke-width="0.8" />
<text x="68.5" y="377.5" style="font-family:'Liberation Serif',serif;font-size:10px;font-weight:normal" fill="#111" stroke="#111" stroke-width="0.2" text-anchor="middle" >FO</text>
<text x="98" y="377.5" style="font-family:'Liberation Serif',serif;font-size:10px;font-weight:normal" fill="#111" stroke="#111" stroke-width="0.2" text-anchor="middle" >MZ</text>
<text x="0" y="0" style="font-family:'Liberation Serif',serif;font-size:10.5px;font-weight:normal" fill="#111" stroke="#111" stroke-width="0.2" text-anchor="middle" transform="translate(32.5,317.8) rotate(-90)" letter-spacing="0.15">Fold difference</text>
<text x="142.8" y="267" style="font-family:'Liberation Sans',sans-serif;font-size:14px;font-weight:bold" fill="#000" text-anchor="start" >E</text>
<text x="0" y="0" style="font-family:'Liberation Serif',serif;font-size:11px;font-weight:normal" fill="#111" stroke="#111" stroke-width="0.2" text-anchor="middle" transform="translate(165.5,326) rotate(-90)">CCL2<tspan style="font-family:'Liberation Sans',sans-serif;font-size:6.5px" stroke-width="0.1" dy="-3.3">AF647</tspan></text>
<clipPath id="clipE0"><rect x="171.2" y="276.3" width="79.5" height="84.89999999999998"/></clipPath>
<clipPath id="clipE1"><rect x="257.4" y="276.3" width="80.0" height="84.89999999999998"/></clipPath>
<clipPath id="clipE2"><rect x="347.8" y="276.3" width="79.59999999999997" height="84.89999999999998"/></clipPath>
<clipPath id="clipE3"><rect x="434.7" y="276.3" width="79.80000000000001" height="84.89999999999998"/></clipPath>
<g filter="url(#spk)">
<rect x="165" y="270" width="355" height="95" fill="#fff"/>
<radialGradient id="rg271"><stop offset="0" stop-color="#909090"/><stop offset="0.18" stop-color="#acacac"/><stop offset="0.45" stop-color="#a8a8a8"/><stop offset="0.7" stop-color="#9c9c9c"/><stop offset="0.84" stop-color="#6a6a6a"/><stop offset="0.93" stop-color="#2e2e2e"/><stop offset="1" stop-color="#3a3a3a"/></radialGradient>
<radialGradient id="rg272"><stop offset="0" stop-color="#1a1a1a"/><stop offset="0.2" stop-color="#3a3a3a"/><stop offset="0.33" stop-color="#a0a0a0"/><stop offset="0.6" stop-color="#a8a8a8"/><stop offset="0.78" stop-color="#909090"/><stop offset="0.9" stop-color="#2e2e2e"/><stop offset="1" stop-color="#3a3a3a"/></radialGradient>
<radialGradient id="rg273"><stop offset="0" stop-color="#909090"/><stop offset="0.18" stop-color="#acacac"/><stop offset="0.45" stop-color="#a8a8a8"/><stop offset="0.7" stop-color="#9c9c9c"/><stop offset="0.84" stop-color="#6a6a6a"/><stop offset="0.93" stop-color="#2e2e2e"/><stop offset="1" stop-color="#3a3a3a"/></radialGradient>
<radialGradient id="rg274"><stop offset="0" stop-color="#1a1a1a"/><stop offset="0.2" stop-color="#3a3a3a"/><stop offset="0.33" stop-color="#a0a0a0"/><stop offset="0.6" stop-color="#a8a8a8"/><stop offset="0.78" stop-color="#909090"/><stop offset="0.9" stop-color="#2e2e2e"/><stop offset="1" stop-color="#3a3a3a"/></radialGradient>
<g clip-path="url(#clipE0)">
<rect x="171" y="304" width="7" height="57" fill="#808080" opacity="1"/>
<ellipse cx="175" cy="356" rx="9" ry="8" fill="#666" opacity="1" transform="rotate(0 175 356)"/>
<ellipse cx="217" cy="299" rx="13" ry="9" fill="#bbbbbb" opacity="1" transform="rotate(0 217 299)"/>
<ellipse cx="228" cy="322" rx="5" ry="14" fill="#d0d0d0" opacity="1" transform="rotate(0 228 322)"/>
<rect x="178" y="291" width="29" height="8" fill="#858585" opacity="1"/>
<rect x="178" y="299" width="29" height="31" fill="#5e5e5e" opacity="1"/>
<ellipse cx="196" cy="316" rx="4" ry="5" fill="#808080" opacity="1" transform="rotate(0 196 316)"/>
<rect x="207" y="309" width="18" height="21" fill="#5a5a5a" opacity="1"/>
<ellipse cx="199" cy="346" rx="28" ry="16" fill="#4e4e4e" opacity="1" transform="rotate(0 199 346)"/>
<ellipse cx="222" cy="348" rx="6" ry="10" fill="#5e5e5e" opacity="1" transform="rotate(0 222 348)"/>
</g>
<g clip-path="url(#clipE1)">
<rect x="257.2" y="304" width="7" height="57" fill="#808080" opacity="1"/>
<ellipse cx="261" cy="356" rx="9" ry="8" fill="#666" opacity="1" transform="rotate(0 261 356)"/>
<ellipse cx="303" cy="299" rx="13" ry="9" fill="#c4c4c4" opacity="1" transform="rotate(0 303 299)"/>
<ellipse cx="315" cy="322" rx="5" ry="14" fill="#d8d8d8" opacity="1" transform="rotate(0 315 322)"/>
<rect x="264.5" y="291" width="29" height="8" fill="#808080" opacity="1"/>
<rect x="264.5" y="299" width="29" height="30" fill="#5a5a5a" opacity="1"/>
<ellipse cx="283" cy="316" rx="4" ry="5" fill="#7e7e7e" opacity="1" transform="rotate(0 283 316)"/>
<rect x="293.6" y="309" width="18" height="20" fill="#707070" opacity="1"/>
<ellipse cx="285" cy="346" rx="28" ry="16" fill="#4e4e4e" opacity="1" transform="rotate(0 285 346)"/>
<ellipse cx="308" cy="348" rx="6" ry="10" fill="#5e5e5e" opacity="1" transform="rotate(0 308 348)"/>
</g>
<g clip-path="url(#clipE2)">
<ellipse cx="391" cy="300" rx="11" ry="7" fill="#e0e0e0" opacity="1" transform="rotate(0 391 300)"/>
<ellipse cx="408" cy="318" rx="4" ry="9" fill="#dddddd" opacity="1" transform="rotate(0 408 318)"/>
<ellipse cx="392" cy="311" rx="12" ry="5" fill="#bdbdbd" opacity="1" transform="rotate(0 392 311)"/>
<ellipse cx="392" cy="324" rx="13" ry="10" fill="#626262" opacity="1" transform="rotate(0 392 324)"/>
<ellipse cx="390" cy="328.5" rx="9" ry="5" fill="#3a3a3a" opacity="1" transform="rotate(0 390 328.5)"/>
<path d="M357,333 C358,318 362,300 366,292 C368,288 372,287 375,290 C378,296 378,315 379,333 Z" fill="#404040"/>
<ellipse cx="371.5" cy="294" rx="4.5" ry="5" fill="#1e1e1e" opacity="1" transform="rotate(0 371.5 294)"/>
<ellipse cx="365" cy="318" rx="3" ry="12" fill="#787878" opacity="1" transform="rotate(-6 365 318)"/>
<ellipse cx="358" cy="306" rx="3" ry="14" fill="#eeeeee" opacity="1" transform="rotate(0 358 306)"/>
<ellipse cx="376" cy="337" rx="18" ry="5" fill="#555" opacity="1" transform="rotate(0 376 337)"/>
<ellipse cx="377" cy="339" rx="6" ry="5" fill="#3a3a3a" opacity="1" transform="rotate(0 377 339)"/>
<ellipse cx="364.4" cy="347.2" rx="12.8" ry="10" fill="#555" opacity="1" transform="rotate(0 364.4 347.2)"/>
<ellipse cx="384.6" cy="347.7" rx="11" ry="10" fill="#555" opacity="1" transform="rotate(0 384.6 347.7)"/>
</g>
<g clip-path="url(#clipE3)">
<ellipse cx="453" cy="323" rx="11" ry="8" fill="#999" opacity="1" transform="rotate(0 453 323)"/>
<ellipse cx="453" cy="330" rx="12" ry="5" fill="#555" opacity="1" transform="rotate(0 453 330)"/>
<ellipse cx="477" cy="320" rx="13" ry="13" fill="#6a6a6a" opacity="1" transform="rotate(0 477 320)"/>
<ellipse cx="478" cy="325" rx="6" ry="6" fill="#3a3a3a" opacity="1" transform="rotate(0 478 325)"/>
<ellipse cx="474" cy="331" rx="9" ry="4" fill="#444" opacity="1" transform="rotate(0 474 331)"/>
<ellipse cx="461" cy="337" rx="18" ry="5" fill="#555" opacity="1" transform="rotate(0 461 337)"/>
<ellipse cx="461" cy="339" rx="6" ry="5" fill="#3a3a3a" opacity="1" transform="rotate(0 461 339)"/>
<ellipse cx="450.1" cy="346.7" rx="12.8" ry="10" fill="#555" opacity="1" transform="rotate(0 450.1 346.7)"/>
<ellipse cx="471.6" cy="346.9" rx="11" ry="10" fill="#555" opacity="1" transform="rotate(0 471.6 346.9)"/>
</g>
</g>
<g filter="url(#bl15)">
<g clip-path="url(#clipE0)">
<path d="M182.5,340.0 A10.0,10.0 0 0 1 202.5,340.0 C202.5,348.0 195.5,351.0 194.0,357.0 C192.5,351.0 182.5,348.0 182.5,340.0 Z" fill="#909090" opacity="1"/>
<path d="M203.5,339.0 A10.0,10.0 0 0 1 223.5,339.0 C223.5,347.0 212.8,353.5 211.3,359.5 C209.8,353.5 203.5,347.0 203.5,339.0 Z" fill="#949494" opacity="1"/>
<path d="M185.5,340.0 A7.0,7.0 0 0 1 199.5,340.0 C199.5,345.6 195.5,347.8 194.0,352.0 C192.5,347.8 185.5,345.6 185.5,340.0 Z" fill="#a8a8a8" opacity="1"/>
<path d="M206.5,338.0 A7.0,7.0 0 0 1 220.5,338.0 C220.5,343.6 212.8,350.8 211.3,355.0 C209.8,350.8 206.5,343.6 206.5,338.0 Z" fill="#acacac" opacity="1"/>
<ellipse cx="215" cy="323" rx="6" ry="5" fill="#9c9c9c" opacity="1" transform="rotate(0 215 323)"/>
<ellipse cx="196" cy="315" rx="4" ry="4" fill="#8a8a8a" opacity="1" transform="rotate(0 196 315)"/>
</g>
<g clip-path="url(#clipE1)">
<path d="M269.0,340.0 A10.0,10.0 0 0 1 289.0,340.0 C289.0,348.0 281.5,351.0 280.0,357.0 C278.5,351.0 269.0,348.0 269.0,340.0 Z" fill="#909090" opacity="1"/>
<path d="M289.5,339.0 A10.0,10.0 0 0 1 309.5,339.0 C309.5,347.0 299.0,353.5 297.5,359.5 C296.0,353.5 289.5,347.0 289.5,339.0 Z" fill="#949494" opacity="1"/>
<path d="M272.0,340.0 A7.0,7.0 0 0 1 286.0,340.0 C286.0,345.6 281.5,347.8 280.0,352.0 C278.5,347.8 272.0,345.6 272.0,340.0 Z" fill="#a8a8a8" opacity="1"/>
<path d="M292.5,338.0 A7.0,7.0 0 0 1 306.5,338.0 C306.5,343.6 299.0,350.8 297.5,355.0 C296.0,350.8 292.5,343.6 292.5,338.0 Z" fill="#aeaeae" opacity="1"/>
<ellipse cx="283" cy="315" rx="4" ry="4" fill="#888" opacity="1" transform="rotate(0 283 315)"/>
</g>
<g clip-path="url(#clipE2)">
<ellipse cx="364.4" cy="347.2" rx="11.2" ry="8.511999999999999" fill="url(#rg271)"/>
<ellipse cx="384.6" cy="347.7" rx="9.6" ry="8.256" fill="url(#rg272)"/>
</g>
<g clip-path="url(#clipE3)">
<ellipse cx="450.1" cy="346.7" rx="11.2" ry="8.511999999999999" fill="url(#rg273)"/>
<ellipse cx="471.6" cy="346.9" rx="9.6" ry="8.256" fill="url(#rg274)"/>
</g>
</g>
<g clip-path="url(#clipE0)" fill="#333"><path opacity="0.3" d="M225.8 300.1h1v1h-1zM215.6 298.8h1v1h-1zM206.3 302.3h1v1h-1zM231.3 300.9h1v1h-1zM220.2 300.0h1v1h-1zM220.3 298.7h1v1h-1zM214.9 293.2h1v1h-1zM211.4 295.2h1v1h-1zM221.0 290.6h1v1h-1zM222.7 302.7h1v1h-1zM225.7 298.8h1v1h-1zM220.5 300.5h1v1h-1zM212.5 301.2h1v1h-1zM216.3 296.7h1v1h-1zM218.1 298.0h1v1h-1zM223.3 300.8h1v1h-1zM224.8 293.1h1v1h-1zM210.1 299.2h1v1h-1zM223.1 300.7h1v1h-1zM220.0 295.4h1v1h-1zM226.2 296.1h1v1h-1zM217.5 302.8h1v1h-1zM222.8 290.5h1v1h-1zM211.5 297.5h1v1h-1zM223.6 298.7h1v1h-1zM214.7 300.7h1v1h-1zM210.8 290.6h1v1h-1zM218.0 292.3h1v1h-1zM234.0 313.4h1v1h-1zM236.1 310.3h1v1h-1zM235.8 313.4h1v1h-1zM228.0 313.6h1v1h-1zM235.7 312.6h1v1h-1zM231.3 309.5h1v1h-1zM229.2 321.4h1v1h-1zM229.8 324.4h1v1h-1zM233.2 310.5h1v1h-1zM222.5 305.2h1v1h-1zM234.1 309.8h1v1h-1zM229.2 314.7h1v1h-1zM226.7 312.2h1v1h-1zM223.4 309.6h1v1h-1zM227.2 312.5h1v1h-1zM230.7 304.4h1v1h-1zM230.6 295.2h1v1h-1zM226.4 308.1h1v1h-1zM228.5 305.8h1v1h-1zM236.8 300.0h1v1h-1zM231.3 318.5h1v1h-1zM232.7 317.9h1v1h-1zM231.9 336.8h1v1h-1zM232.2 323.1h1v1h-1zM228.6 320.0h1v1h-1zM229.9 313.2h1v1h-1zM229.3 315.6h1v1h-1zM226.6 307.4h1v1h-1zM176.9 337.2h1v1h-1zM175.4 318.3h1v1h-1zM170.8 320.0h1v1h-1zM175.1 337.2h1v1h-1zM176.9 333.1h1v1h-1zM173.3 353.8h1v1h-1zM177.3 331.3h1v1h-1zM174.6 311.1h1v1h-1zM168.1 335.5h1v1h-1zM172.7 337.8h1v1h-1zM174.9 339.0h1v1h-1zM174.6 340.9h1v1h-1zM174.0 343.1h1v1h-1zM176.1 346.9h1v1h-1zM175.6 330.8h1v1h-1zM177.2 319.7h1v1h-1zM173.1 309.0h1v1h-1zM175.0 335.9h1v1h-1zM171.8 315.6h1v1h-1zM173.7 348.3h1v1h-1zM173.4 309.0h1v1h-1zM234.2 356.5h1v1h-1zM237.3 342.4h1v1h-1zM225.0 347.0h1v1h-1zM232.7 336.9h1v1h-1zM231.7 339.5h1v1h-1zM224.9 359.0h1v1h-1zM228.0 329.7h1v1h-1zM225.1 347.8h1v1h-1zM234.1 354.1h1v1h-1zM230.8 342.6h1v1h-1zM221.9 341.1h1v1h-1zM226.0 339.8h1v1h-1zM229.2 349.1h1v1h-1zM231.9 339.8h1v1h-1zM229.7 349.0h1v1h-1zM227.0 347.9h1v1h-1zM229.8 340.8h1v1h-1zM228.0 348.8h1v1h-1zM182.2 296.3h1v1h-1zM187.8 292.3h1v1h-1zM185.1 293.0h1v1h-1zM191.1 294.7h1v1h-1zM198.8 292.0h1v1h-1zM188.2 291.3h1v1h-1zM183.0 287.1h1v1h-1zM191.4 290.3h1v1h-1zM182.1 286.6h1v1h-1zM193.6 296.0h1v1h-1zM186.4 297.7h1v1h-1zM192.3 295.3h1v1h-1zM180.1 303.0h1v1h-1zM197.2 288.7h1v1h-1zM189.4 297.9h1v1h-1zM193.7 294.7h1v1h-1zM173.7 295.4h1v1h-1zM193.6 289.6h1v1h-1zM192.0 296.5h1v1h-1zM209.7 287.1h1v1h-1zM189.8 290.8h1v1h-1zM203.1 300.3h1v1h-1zM193.9 297.9h1v1h-1zM211.9 329.0h1v1h-1zM182.5 286.8h1v1h-1zM202.5 310.5h1v1h-1zM180.0 300.5h1v1h-1zM207.3 303.9h1v1h-1zM204.2 288.2h1v1h-1zM188.6 304.1h1v1h-1zM196.3 316.1h1v1h-1zM200.4 313.4h1v1h-1zM197.2 306.2h1v1h-1zM205.1 329.1h1v1h-1zM204.3 313.8h1v1h-1zM186.4 307.6h1v1h-1zM208.0 325.2h1v1h-1zM195.1 323.9h1v1h-1zM183.6 320.5h1v1h-1zM208.2 304.5h1v1h-1zM191.8 320.6h1v1h-1zM206.5 310.6h1v1h-1zM225.5 302.5h1v1h-1zM221.6 319.5h1v1h-1zM209.4 326.8h1v1h-1zM202.9 318.4h1v1h-1zM190.2 310.9h1v1h-1zM218.5 316.5h1v1h-1zM196.4 321.8h1v1h-1zM186.9 318.6h1v1h-1zM202.1 301.1h1v1h-1zM195.3 312.8h1v1h-1zM196.0 313.9h1v1h-1zM196.7 311.8h1v1h-1zM182.3 329.0h1v1h-1zM211.6 329.9h1v1h-1z"/><path opacity="0.5" d="M216.2 300.6h1v1h-1zM225.8 300.7h1v1h-1zM219.6 304.9h1v1h-1zM211.8 295.7h1v1h-1zM219.8 295.1h1v1h-1zM213.7 294.3h1v1h-1zM210.4 295.2h1v1h-1zM217.3 293.9h1v1h-1zM223.4 301.5h1v1h-1zM212.1 290.6h1v1h-1zM222.3 294.9h1v1h-1zM210.4 294.3h1v1h-1zM227.0 287.8h1v1h-1zM216.7 296.5h1v1h-1zM204.7 285.4h1v1h-1zM216.5 302.8h1v1h-1zM219.8 299.2h1v1h-1zM221.6 300.7h1v1h-1zM220.0 296.5h1v1h-1zM204.2 294.8h1v1h-1zM221.7 295.0h1v1h-1zM208.8 306.1h1v1h-1zM218.8 303.7h1v1h-1zM217.9 298.5h1v1h-1zM211.8 302.7h1v1h-1zM214.9 292.4h1v1h-1zM217.0 296.5h1v1h-1zM220.7 288.0h1v1h-1zM219.1 300.9h1v1h-1zM217.9 302.6h1v1h-1zM227.8 304.8h1v1h-1zM216.4 297.7h1v1h-1zM231.8 296.7h1v1h-1zM219.2 291.9h1v1h-1zM215.6 301.1h1v1h-1zM231.6 297.1h1v1h-1zM211.8 286.3h1v1h-1zM237.2 292.3h1v1h-1zM219.6 301.2h1v1h-1zM228.9 292.4h1v1h-1zM209.8 288.7h1v1h-1zM219.5 293.6h1v1h-1zM231.6 318.7h1v1h-1zM230.8 310.3h1v1h-1zM233.9 311.1h1v1h-1zM230.1 315.7h1v1h-1zM232.1 324.0h1v1h-1zM220.6 318.0h1v1h-1zM221.1 307.1h1v1h-1zM226.6 301.2h1v1h-1zM233.6 326.8h1v1h-1zM235.2 329.6h1v1h-1zM217.9 317.2h1v1h-1zM237.0 313.5h1v1h-1zM169.2 345.5h1v1h-1zM174.9 338.5h1v1h-1zM179.3 338.1h1v1h-1zM181.4 345.6h1v1h-1zM175.4 324.1h1v1h-1zM180.5 342.2h1v1h-1zM173.0 346.1h1v1h-1zM174.8 337.8h1v1h-1zM173.1 330.0h1v1h-1zM176.3 315.5h1v1h-1zM176.5 317.1h1v1h-1zM171.7 290.6h1v1h-1zM177.3 309.6h1v1h-1zM175.8 334.2h1v1h-1zM178.3 304.5h1v1h-1zM173.3 332.2h1v1h-1zM174.4 368.2h1v1h-1zM172.9 326.7h1v1h-1zM172.5 341.5h1v1h-1zM174.9 336.5h1v1h-1zM175.4 349.8h1v1h-1zM175.0 308.0h1v1h-1zM176.7 329.2h1v1h-1zM174.4 326.5h1v1h-1zM178.3 316.8h1v1h-1zM175.6 322.4h1v1h-1zM169.3 329.2h1v1h-1zM176.8 312.4h1v1h-1zM176.6 331.6h1v1h-1zM179.5 347.5h1v1h-1zM172.1 314.9h1v1h-1zM174.8 330.1h1v1h-1zM175.0 312.3h1v1h-1zM174.4 325.3h1v1h-1zM174.7 319.9h1v1h-1zM178.5 327.3h1v1h-1zM170.5 333.0h1v1h-1zM176.4 339.2h1v1h-1zM177.2 334.4h1v1h-1zM223.6 344.1h1v1h-1zM220.8 348.8h1v1h-1zM230.6 343.2h1v1h-1zM231.1 352.6h1v1h-1zM233.0 356.0h1v1h-1zM232.7 345.2h1v1h-1zM227.3 349.2h1v1h-1zM233.7 339.4h1v1h-1zM227.0 352.5h1v1h-1zM233.3 344.9h1v1h-1zM225.4 344.6h1v1h-1zM236.0 340.5h1v1h-1zM222.0 332.0h1v1h-1zM227.5 336.3h1v1h-1zM229.9 343.1h1v1h-1zM226.1 350.6h1v1h-1zM231.1 344.1h1v1h-1zM226.4 354.7h1v1h-1zM239.2 330.1h1v1h-1zM227.7 355.4h1v1h-1zM228.0 336.7h1v1h-1zM224.2 343.8h1v1h-1zM231.0 347.5h1v1h-1zM231.3 351.7h1v1h-1zM228.0 353.1h1v1h-1zM235.5 340.6h1v1h-1zM229.0 345.3h1v1h-1zM231.6 339.5h1v1h-1zM232.0 345.0h1v1h-1zM231.6 331.0h1v1h-1zM222.0 343.3h1v1h-1zM227.0 333.6h1v1h-1zM193.2 292.1h1v1h-1zM191.9 300.7h1v1h-1zM194.3 296.0h1v1h-1zM172.4 297.5h1v1h-1zM192.4 305.2h1v1h-1zM191.4 295.8h1v1h-1zM199.1 295.8h1v1h-1zM189.8 292.6h1v1h-1zM198.8 294.3h1v1h-1zM192.7 297.8h1v1h-1zM186.5 304.5h1v1h-1zM194.2 297.6h1v1h-1zM187.7 296.7h1v1h-1zM178.6 300.3h1v1h-1zM189.0 281.2h1v1h-1zM189.6 297.3h1v1h-1zM192.0 294.0h1v1h-1zM197.3 294.4h1v1h-1zM198.5 288.3h1v1h-1zM200.6 296.4h1v1h-1zM196.6 293.7h1v1h-1zM193.6 294.4h1v1h-1zM194.8 295.3h1v1h-1zM191.4 301.6h1v1h-1zM188.6 297.7h1v1h-1zM187.4 292.9h1v1h-1zM192.6 286.1h1v1h-1zM172.2 296.6h1v1h-1zM187.4 297.0h1v1h-1zM196.2 288.8h1v1h-1zM188.8 298.4h1v1h-1zM196.7 296.3h1v1h-1zM185.3 293.8h1v1h-1zM195.1 295.9h1v1h-1zM182.4 297.8h1v1h-1zM191.8 287.3h1v1h-1zM184.9 293.4h1v1h-1zM195.4 320.9h1v1h-1zM192.8 311.7h1v1h-1zM181.7 314.9h1v1h-1zM204.7 316.4h1v1h-1zM199.6 325.5h1v1h-1zM198.2 320.4h1v1h-1zM182.7 322.0h1v1h-1zM195.7 317.0h1v1h-1zM200.3 313.0h1v1h-1zM212.6 313.2h1v1h-1zM203.6 309.7h1v1h-1zM197.5 323.9h1v1h-1zM209.0 319.3h1v1h-1zM211.5 304.1h1v1h-1zM184.0 322.9h1v1h-1zM200.3 328.1h1v1h-1zM212.4 315.3h1v1h-1zM189.8 304.6h1v1h-1zM198.0 312.8h1v1h-1zM192.7 312.5h1v1h-1zM197.1 311.8h1v1h-1zM214.1 320.0h1v1h-1zM220.8 285.9h1v1h-1zM202.6 306.0h1v1h-1zM175.0 313.3h1v1h-1zM209.0 327.2h1v1h-1zM208.5 315.7h1v1h-1z"/></g>
<g clip-path="url(#clipE1)" fill="#333"><path opacity="0.3" d="M308.2 296.4h1v1h-1zM297.9 297.8h1v1h-1zM297.6 288.4h1v1h-1zM294.1 303.5h1v1h-1zM313.2 297.6h1v1h-1zM304.7 292.6h1v1h-1zM295.1 294.2h1v1h-1zM305.8 298.0h1v1h-1zM307.0 296.4h1v1h-1zM303.2 297.1h1v1h-1zM302.0 299.9h1v1h-1zM314.9 306.8h1v1h-1zM312.4 291.7h1v1h-1zM304.1 308.8h1v1h-1zM297.0 297.0h1v1h-1zM315.4 301.1h1v1h-1zM288.2 294.3h1v1h-1zM295.9 290.9h1v1h-1zM301.8 301.9h1v1h-1zM292.8 299.8h1v1h-1zM304.5 300.3h1v1h-1zM303.1 304.3h1v1h-1zM306.0 292.1h1v1h-1zM292.6 287.9h1v1h-1zM304.9 297.4h1v1h-1zM299.5 288.7h1v1h-1zM302.6 291.6h1v1h-1zM306.3 304.8h1v1h-1zM307.3 296.5h1v1h-1zM316.6 305.1h1v1h-1zM305.1 298.9h1v1h-1zM324.3 303.9h1v1h-1zM316.5 319.2h1v1h-1zM320.2 301.6h1v1h-1zM318.6 303.7h1v1h-1zM317.5 317.4h1v1h-1zM317.0 322.6h1v1h-1zM319.1 315.9h1v1h-1zM315.2 306.6h1v1h-1zM315.3 313.5h1v1h-1zM309.7 321.0h1v1h-1zM314.6 304.3h1v1h-1zM316.1 315.4h1v1h-1zM316.8 290.2h1v1h-1zM317.9 324.6h1v1h-1zM315.4 321.1h1v1h-1zM314.1 315.0h1v1h-1zM322.2 322.7h1v1h-1zM317.3 302.7h1v1h-1zM323.2 324.7h1v1h-1zM316.5 325.0h1v1h-1zM316.2 300.0h1v1h-1zM313.9 321.5h1v1h-1zM319.3 303.9h1v1h-1zM318.1 323.5h1v1h-1zM314.2 312.8h1v1h-1zM318.2 310.6h1v1h-1zM317.3 319.3h1v1h-1zM259.3 346.2h1v1h-1zM262.4 350.2h1v1h-1zM261.8 344.3h1v1h-1zM259.4 349.5h1v1h-1zM257.9 299.1h1v1h-1zM252.9 332.6h1v1h-1zM264.4 323.4h1v1h-1zM260.4 334.0h1v1h-1zM264.4 323.2h1v1h-1zM262.0 315.8h1v1h-1zM260.9 345.8h1v1h-1zM265.8 330.4h1v1h-1zM260.7 328.1h1v1h-1zM265.2 323.5h1v1h-1zM262.3 335.0h1v1h-1zM261.5 316.4h1v1h-1zM265.4 314.9h1v1h-1zM263.8 317.2h1v1h-1zM318.2 348.2h1v1h-1zM310.2 328.1h1v1h-1zM312.3 351.1h1v1h-1zM312.8 344.3h1v1h-1zM307.5 348.5h1v1h-1zM314.5 349.5h1v1h-1zM320.1 345.4h1v1h-1zM314.3 358.0h1v1h-1zM318.0 334.8h1v1h-1zM313.9 343.8h1v1h-1zM309.7 333.0h1v1h-1zM311.6 357.0h1v1h-1zM284.9 291.5h1v1h-1zM274.7 287.8h1v1h-1zM278.9 295.2h1v1h-1zM273.7 295.6h1v1h-1zM274.6 293.6h1v1h-1zM273.6 299.0h1v1h-1zM268.7 295.4h1v1h-1zM278.9 296.1h1v1h-1zM280.4 296.5h1v1h-1zM295.6 292.1h1v1h-1zM272.4 292.7h1v1h-1zM272.2 297.7h1v1h-1zM303.2 292.4h1v1h-1zM264.9 285.7h1v1h-1zM279.2 293.1h1v1h-1zM281.9 297.6h1v1h-1zM277.4 304.1h1v1h-1zM289.4 317.5h1v1h-1zM282.1 299.6h1v1h-1zM290.4 306.3h1v1h-1zM281.9 317.2h1v1h-1zM276.0 331.7h1v1h-1zM281.6 306.0h1v1h-1zM283.3 319.5h1v1h-1zM289.0 309.9h1v1h-1zM277.5 338.7h1v1h-1zM288.2 303.4h1v1h-1zM303.9 312.2h1v1h-1zM287.6 324.8h1v1h-1zM286.3 315.8h1v1h-1zM275.9 304.6h1v1h-1zM290.0 299.8h1v1h-1zM299.9 318.5h1v1h-1zM264.9 315.0h1v1h-1zM292.4 329.4h1v1h-1zM290.0 320.2h1v1h-1zM297.1 312.4h1v1h-1zM293.1 293.7h1v1h-1zM273.0 312.4h1v1h-1zM286.0 318.3h1v1h-1zM284.9 330.4h1v1h-1zM297.7 320.8h1v1h-1zM298.4 313.5h1v1h-1zM269.6 309.8h1v1h-1zM295.8 300.4h1v1h-1zM293.3 320.1h1v1h-1zM284.1 317.0h1v1h-1zM286.5 303.0h1v1h-1zM286.9 309.3h1v1h-1zM307.5 305.9h1v1h-1zM272.5 318.7h1v1h-1zM281.3 311.3h1v1h-1zM282.9 311.9h1v1h-1z"/><path opacity="0.5" d="M305.6 295.4h1v1h-1zM305.7 300.7h1v1h-1zM304.8 295.6h1v1h-1zM299.7 294.4h1v1h-1zM295.3 295.8h1v1h-1zM321.4 307.6h1v1h-1zM303.9 296.4h1v1h-1zM303.8 305.1h1v1h-1zM298.4 294.5h1v1h-1zM305.5 304.5h1v1h-1zM306.8 304.7h1v1h-1zM305.9 299.8h1v1h-1zM303.9 298.8h1v1h-1zM298.0 296.2h1v1h-1zM288.6 302.1h1v1h-1zM307.0 304.5h1v1h-1zM313.4 292.4h1v1h-1zM317.5 298.4h1v1h-1zM310.1 299.1h1v1h-1zM299.4 288.9h1v1h-1zM305.0 306.2h1v1h-1zM303.8 293.6h1v1h-1zM301.5 301.3h1v1h-1zM296.7 292.4h1v1h-1zM311.8 297.3h1v1h-1zM300.5 291.4h1v1h-1zM303.8 296.2h1v1h-1zM295.6 305.0h1v1h-1zM306.0 296.8h1v1h-1zM320.6 312.6h1v1h-1zM317.1 312.0h1v1h-1zM311.4 315.6h1v1h-1zM317.5 308.9h1v1h-1zM312.7 320.2h1v1h-1zM316.9 321.8h1v1h-1zM312.1 314.9h1v1h-1zM314.0 328.3h1v1h-1zM260.1 338.6h1v1h-1zM260.8 323.1h1v1h-1zM263.4 338.8h1v1h-1zM262.4 306.6h1v1h-1zM256.7 345.7h1v1h-1zM256.8 329.9h1v1h-1zM263.6 345.9h1v1h-1zM260.6 297.3h1v1h-1zM256.5 318.8h1v1h-1zM261.6 353.8h1v1h-1zM261.7 307.0h1v1h-1zM259.2 310.6h1v1h-1zM256.4 342.7h1v1h-1zM259.4 321.7h1v1h-1zM257.0 335.8h1v1h-1zM258.1 308.5h1v1h-1zM259.3 327.6h1v1h-1zM257.7 321.5h1v1h-1zM256.7 328.4h1v1h-1zM257.9 327.9h1v1h-1zM262.1 352.1h1v1h-1zM261.1 322.4h1v1h-1zM260.6 331.4h1v1h-1zM256.9 341.1h1v1h-1zM260.8 340.6h1v1h-1zM264.6 348.9h1v1h-1zM258.8 317.4h1v1h-1zM262.2 368.2h1v1h-1zM257.4 308.8h1v1h-1zM258.5 332.5h1v1h-1zM265.0 350.1h1v1h-1zM262.4 320.5h1v1h-1zM261.1 342.7h1v1h-1zM257.2 339.3h1v1h-1zM256.5 356.2h1v1h-1zM266.3 339.9h1v1h-1zM261.4 321.9h1v1h-1zM264.2 317.0h1v1h-1zM257.9 302.3h1v1h-1zM262.1 321.6h1v1h-1zM256.2 325.3h1v1h-1zM261.2 338.2h1v1h-1zM309.3 345.5h1v1h-1zM314.3 344.3h1v1h-1zM309.0 347.1h1v1h-1zM316.1 338.5h1v1h-1zM315.5 344.2h1v1h-1zM313.4 343.5h1v1h-1zM318.8 343.9h1v1h-1zM314.8 343.7h1v1h-1zM311.4 339.8h1v1h-1zM311.0 351.8h1v1h-1zM314.4 339.5h1v1h-1zM309.5 349.8h1v1h-1zM312.0 359.5h1v1h-1zM310.8 344.8h1v1h-1zM319.8 343.2h1v1h-1zM309.1 339.1h1v1h-1zM320.2 348.2h1v1h-1zM316.6 345.2h1v1h-1zM309.5 337.6h1v1h-1zM318.6 339.1h1v1h-1zM309.7 336.2h1v1h-1zM312.8 340.0h1v1h-1zM314.5 347.0h1v1h-1zM319.0 339.0h1v1h-1zM317.1 332.4h1v1h-1zM313.8 351.8h1v1h-1zM312.2 352.7h1v1h-1zM315.2 343.9h1v1h-1zM316.0 346.0h1v1h-1zM306.0 336.8h1v1h-1zM317.9 345.7h1v1h-1zM324.4 336.4h1v1h-1zM312.4 346.9h1v1h-1zM315.7 344.3h1v1h-1zM314.5 346.1h1v1h-1zM320.6 349.3h1v1h-1zM309.7 335.9h1v1h-1zM316.8 342.5h1v1h-1zM272.0 298.9h1v1h-1zM277.0 293.0h1v1h-1zM271.5 299.4h1v1h-1zM272.1 296.9h1v1h-1zM292.2 292.6h1v1h-1zM278.3 296.4h1v1h-1zM261.7 288.2h1v1h-1zM273.5 293.0h1v1h-1zM284.9 292.5h1v1h-1zM265.3 289.9h1v1h-1zM269.6 297.5h1v1h-1zM280.8 294.2h1v1h-1zM285.1 287.6h1v1h-1zM276.7 302.7h1v1h-1zM271.9 286.9h1v1h-1zM287.7 297.6h1v1h-1zM283.1 301.3h1v1h-1zM280.1 300.4h1v1h-1zM279.1 287.9h1v1h-1zM291.4 298.8h1v1h-1zM280.1 300.2h1v1h-1zM286.3 291.8h1v1h-1zM284.2 300.6h1v1h-1zM271.5 293.4h1v1h-1zM280.4 296.0h1v1h-1zM276.3 296.3h1v1h-1zM280.1 292.7h1v1h-1zM302.8 297.6h1v1h-1zM280.5 290.9h1v1h-1zM280.6 287.6h1v1h-1zM263.9 292.1h1v1h-1zM285.0 294.2h1v1h-1zM266.3 287.3h1v1h-1zM285.0 295.7h1v1h-1zM293.2 290.0h1v1h-1zM292.4 297.0h1v1h-1zM287.2 300.3h1v1h-1zM276.0 292.0h1v1h-1zM278.8 297.1h1v1h-1zM278.4 294.4h1v1h-1zM279.7 296.0h1v1h-1zM282.4 304.2h1v1h-1zM282.4 293.6h1v1h-1zM294.1 300.3h1v1h-1zM290.0 301.8h1v1h-1zM289.4 318.6h1v1h-1zM288.4 311.5h1v1h-1zM264.8 335.1h1v1h-1zM287.7 309.9h1v1h-1zM289.2 321.8h1v1h-1zM292.3 327.5h1v1h-1zM288.8 325.2h1v1h-1zM284.4 308.7h1v1h-1zM275.2 328.5h1v1h-1zM283.2 312.1h1v1h-1zM280.0 311.5h1v1h-1zM282.6 302.5h1v1h-1zM303.8 319.6h1v1h-1zM283.0 311.5h1v1h-1zM293.7 322.1h1v1h-1zM292.8 322.4h1v1h-1zM294.6 328.1h1v1h-1zM277.0 318.7h1v1h-1zM275.1 310.4h1v1h-1zM279.6 321.2h1v1h-1zM292.4 291.2h1v1h-1zM302.0 308.7h1v1h-1z"/></g>
<g clip-path="url(#clipE2)" fill="#333"><path opacity="0.3" d="M391.4 297.1h1v1h-1zM389.0 305.5h1v1h-1zM374.6 295.0h1v1h-1zM390.0 304.1h1v1h-1zM395.5 296.7h1v1h-1zM387.9 296.0h1v1h-1zM398.1 296.4h1v1h-1zM381.5 299.3h1v1h-1zM392.6 299.9h1v1h-1zM385.2 300.3h1v1h-1zM383.0 293.9h1v1h-1zM393.3 305.5h1v1h-1zM380.8 296.0h1v1h-1zM388.1 301.5h1v1h-1zM383.1 297.6h1v1h-1zM390.6 304.4h1v1h-1zM385.5 312.5h1v1h-1zM390.6 295.1h1v1h-1zM395.2 294.1h1v1h-1zM384.3 301.5h1v1h-1zM389.7 295.1h1v1h-1zM383.7 304.0h1v1h-1zM397.6 290.5h1v1h-1zM389.2 289.8h1v1h-1zM377.9 299.4h1v1h-1zM401.9 298.2h1v1h-1zM372.0 298.2h1v1h-1zM384.7 294.9h1v1h-1zM379.2 300.1h1v1h-1zM383.1 302.0h1v1h-1zM382.4 298.0h1v1h-1zM388.7 300.6h1v1h-1zM409.0 318.6h1v1h-1zM407.4 319.4h1v1h-1zM405.6 319.4h1v1h-1zM408.7 311.5h1v1h-1zM413.3 319.0h1v1h-1zM405.1 319.8h1v1h-1zM404.2 312.1h1v1h-1zM411.3 319.6h1v1h-1zM402.5 327.4h1v1h-1zM406.9 319.3h1v1h-1zM410.9 319.8h1v1h-1zM408.1 322.3h1v1h-1zM407.4 317.3h1v1h-1zM405.9 323.9h1v1h-1zM405.1 327.1h1v1h-1zM401.7 321.4h1v1h-1zM408.3 326.7h1v1h-1zM360.3 321.8h1v1h-1zM357.2 314.5h1v1h-1zM359.1 302.1h1v1h-1zM358.7 321.1h1v1h-1zM361.6 315.9h1v1h-1zM360.2 327.6h1v1h-1zM357.4 334.6h1v1h-1zM353.5 333.1h1v1h-1zM360.8 307.7h1v1h-1zM359.2 335.7h1v1h-1zM354.9 310.8h1v1h-1zM356.0 307.7h1v1h-1zM356.4 328.0h1v1h-1zM357.7 316.2h1v1h-1zM359.4 319.1h1v1h-1zM356.4 296.0h1v1h-1zM358.0 335.2h1v1h-1zM356.9 306.5h1v1h-1zM358.7 312.9h1v1h-1zM358.7 321.7h1v1h-1zM357.6 303.0h1v1h-1zM357.1 301.8h1v1h-1zM360.2 294.1h1v1h-1zM398.7 317.3h1v1h-1zM402.4 323.3h1v1h-1zM388.8 305.6h1v1h-1zM387.2 314.8h1v1h-1zM387.8 320.8h1v1h-1zM390.2 312.1h1v1h-1zM393.8 318.0h1v1h-1zM389.8 318.8h1v1h-1zM392.9 320.5h1v1h-1zM403.3 304.7h1v1h-1zM382.7 324.3h1v1h-1zM403.7 320.4h1v1h-1zM373.2 321.5h1v1h-1zM401.3 317.6h1v1h-1zM386.2 313.8h1v1h-1zM367.0 310.3h1v1h-1zM359.4 299.1h1v1h-1zM358.0 294.7h1v1h-1zM366.3 297.3h1v1h-1zM372.6 302.9h1v1h-1zM357.4 295.6h1v1h-1zM372.7 294.6h1v1h-1zM363.9 298.1h1v1h-1zM372.9 309.2h1v1h-1zM366.4 298.0h1v1h-1z"/><path opacity="0.5" d="M381.5 291.2h1v1h-1zM397.5 301.3h1v1h-1zM396.5 298.3h1v1h-1zM393.9 300.3h1v1h-1zM393.1 296.7h1v1h-1zM379.3 302.3h1v1h-1zM384.6 305.9h1v1h-1zM387.4 296.9h1v1h-1zM404.4 333.8h1v1h-1zM403.8 316.3h1v1h-1zM407.5 310.2h1v1h-1zM403.4 318.9h1v1h-1zM404.8 324.8h1v1h-1zM402.7 335.7h1v1h-1zM403.9 326.0h1v1h-1zM412.6 305.8h1v1h-1zM403.1 324.1h1v1h-1zM405.0 328.2h1v1h-1zM408.3 326.1h1v1h-1zM410.6 312.5h1v1h-1zM408.4 325.5h1v1h-1zM409.2 311.1h1v1h-1zM408.2 328.9h1v1h-1zM406.6 331.5h1v1h-1zM408.3 323.2h1v1h-1zM401.5 317.9h1v1h-1zM407.3 313.0h1v1h-1zM412.3 330.1h1v1h-1zM412.9 325.7h1v1h-1zM410.1 317.8h1v1h-1zM407.0 322.4h1v1h-1zM408.6 314.5h1v1h-1zM408.0 313.8h1v1h-1zM410.4 317.7h1v1h-1zM407.1 327.9h1v1h-1zM407.5 326.8h1v1h-1zM360.0 310.2h1v1h-1zM353.5 320.0h1v1h-1zM359.3 321.4h1v1h-1zM356.7 313.9h1v1h-1zM357.6 337.7h1v1h-1zM356.7 318.7h1v1h-1zM358.3 300.3h1v1h-1zM359.3 315.9h1v1h-1zM355.8 307.7h1v1h-1zM358.2 318.2h1v1h-1zM357.5 323.9h1v1h-1zM358.8 287.5h1v1h-1zM354.9 321.2h1v1h-1zM361.5 301.8h1v1h-1zM360.1 314.5h1v1h-1zM360.0 332.7h1v1h-1zM362.7 318.3h1v1h-1zM394.4 312.0h1v1h-1zM393.0 313.5h1v1h-1zM382.6 322.2h1v1h-1zM392.3 318.6h1v1h-1zM376.6 322.4h1v1h-1zM391.9 304.7h1v1h-1zM390.4 316.6h1v1h-1zM384.4 319.1h1v1h-1zM372.8 311.4h1v1h-1zM391.4 319.0h1v1h-1zM384.4 315.4h1v1h-1zM389.0 320.1h1v1h-1zM399.5 322.0h1v1h-1zM397.0 309.1h1v1h-1zM398.8 323.8h1v1h-1zM379.8 318.5h1v1h-1zM398.0 319.3h1v1h-1zM397.1 324.8h1v1h-1zM398.4 319.5h1v1h-1zM417.8 317.3h1v1h-1zM404.0 320.8h1v1h-1zM389.5 314.9h1v1h-1zM388.2 317.6h1v1h-1zM410.9 316.7h1v1h-1zM380.0 305.9h1v1h-1zM406.6 317.8h1v1h-1zM391.5 319.7h1v1h-1zM396.3 305.0h1v1h-1zM390.6 319.4h1v1h-1zM389.7 321.2h1v1h-1zM403.0 318.0h1v1h-1zM398.3 307.5h1v1h-1zM401.8 313.6h1v1h-1zM396.7 320.2h1v1h-1zM392.9 315.6h1v1h-1zM401.6 307.7h1v1h-1zM390.6 324.6h1v1h-1zM386.6 318.6h1v1h-1zM385.5 306.3h1v1h-1zM396.4 320.3h1v1h-1zM399.1 318.7h1v1h-1zM410.2 313.6h1v1h-1zM413.2 313.5h1v1h-1zM394.1 314.0h1v1h-1zM387.8 312.8h1v1h-1zM371.5 297.3h1v1h-1zM364.6 307.0h1v1h-1zM369.2 300.9h1v1h-1zM364.0 301.1h1v1h-1zM361.4 307.6h1v1h-1zM359.7 298.1h1v1h-1zM368.4 303.3h1v1h-1zM363.7 298.8h1v1h-1zM366.0 303.6h1v1h-1zM365.9 309.3h1v1h-1zM364.4 301.7h1v1h-1zM370.1 292.3h1v1h-1zM366.1 296.1h1v1h-1zM365.6 296.3h1v1h-1zM363.6 303.1h1v1h-1zM365.4 301.0h1v1h-1zM367.0 306.6h1v1h-1zM356.6 307.5h1v1h-1zM370.5 292.6h1v1h-1zM368.1 296.5h1v1h-1zM361.4 311.4h1v1h-1zM367.2 296.4h1v1h-1zM365.0 280.6h1v1h-1zM367.9 308.2h1v1h-1zM362.1 297.8h1v1h-1zM364.0 303.0h1v1h-1zM358.6 297.1h1v1h-1zM366.8 299.6h1v1h-1zM369.4 307.7h1v1h-1zM369.1 289.0h1v1h-1z"/></g>
<g clip-path="url(#clipE3)" fill="#333"><path opacity="0.3" d="M459.4 321.3h1v1h-1zM461.4 311.4h1v1h-1zM446.0 314.3h1v1h-1zM463.5 318.4h1v1h-1zM477.0 311.3h1v1h-1zM441.7 317.4h1v1h-1zM445.2 315.4h1v1h-1zM445.4 318.9h1v1h-1zM453.7 325.4h1v1h-1zM469.2 318.7h1v1h-1zM443.2 321.5h1v1h-1zM454.4 320.6h1v1h-1zM450.2 316.4h1v1h-1zM432.3 306.5h1v1h-1zM452.0 324.1h1v1h-1zM454.6 325.9h1v1h-1zM458.2 312.8h1v1h-1zM441.4 304.1h1v1h-1zM443.0 324.8h1v1h-1zM460.7 320.9h1v1h-1zM451.8 310.9h1v1h-1zM465.4 325.9h1v1h-1zM447.0 308.9h1v1h-1zM454.2 304.2h1v1h-1zM456.1 296.2h1v1h-1zM445.3 306.6h1v1h-1zM454.6 319.0h1v1h-1zM460.9 335.2h1v1h-1zM457.2 315.7h1v1h-1zM441.6 318.1h1v1h-1zM455.8 309.6h1v1h-1zM463.6 322.6h1v1h-1zM449.0 313.9h1v1h-1zM452.3 326.5h1v1h-1zM445.3 342.5h1v1h-1zM455.9 312.2h1v1h-1zM436.2 319.5h1v1h-1zM448.6 308.2h1v1h-1zM438.4 310.1h1v1h-1zM459.7 317.8h1v1h-1zM469.5 332.0h1v1h-1zM452.2 303.5h1v1h-1zM454.0 311.3h1v1h-1zM477.3 307.3h1v1h-1zM455.9 302.9h1v1h-1zM458.6 309.8h1v1h-1zM451.2 301.9h1v1h-1zM449.1 305.0h1v1h-1zM435.1 305.3h1v1h-1zM457.6 320.3h1v1h-1zM452.3 300.2h1v1h-1zM452.7 307.3h1v1h-1zM444.8 304.7h1v1h-1zM452.2 305.7h1v1h-1zM447.3 298.8h1v1h-1zM444.7 289.1h1v1h-1zM451.4 299.1h1v1h-1zM434.2 312.8h1v1h-1zM446.8 309.1h1v1h-1zM453.8 305.0h1v1h-1zM458.5 302.9h1v1h-1zM448.7 308.1h1v1h-1zM464.5 312.7h1v1h-1zM455.1 304.0h1v1h-1zM447.8 312.7h1v1h-1zM444.4 319.7h1v1h-1zM456.3 302.9h1v1h-1zM468.9 305.2h1v1h-1zM468.9 306.1h1v1h-1zM471.1 306.4h1v1h-1zM472.4 310.4h1v1h-1zM463.6 308.7h1v1h-1zM479.6 309.1h1v1h-1zM485.3 303.6h1v1h-1zM481.5 312.5h1v1h-1zM474.7 310.5h1v1h-1zM490.3 309.9h1v1h-1zM485.1 314.9h1v1h-1zM472.2 309.6h1v1h-1zM473.8 313.3h1v1h-1zM481.2 315.0h1v1h-1zM483.5 315.7h1v1h-1zM472.3 307.4h1v1h-1zM480.8 306.5h1v1h-1zM462.0 305.7h1v1h-1zM490.4 308.9h1v1h-1zM474.4 306.9h1v1h-1zM463.1 311.8h1v1h-1zM461.4 311.4h1v1h-1zM471.7 304.2h1v1h-1zM479.7 303.2h1v1h-1zM475.8 305.5h1v1h-1zM500.0 322.9h1v1h-1zM490.8 328.9h1v1h-1zM490.1 323.2h1v1h-1zM490.9 327.4h1v1h-1zM487.0 322.7h1v1h-1zM490.1 321.1h1v1h-1zM485.2 327.6h1v1h-1zM487.1 326.6h1v1h-1zM489.9 316.0h1v1h-1zM491.4 325.6h1v1h-1zM492.6 302.8h1v1h-1zM490.3 317.7h1v1h-1zM489.4 331.3h1v1h-1zM490.4 323.3h1v1h-1zM486.9 327.1h1v1h-1zM484.1 322.4h1v1h-1zM442.3 329.6h1v1h-1zM445.3 339.0h1v1h-1zM449.5 328.0h1v1h-1zM441.8 333.8h1v1h-1zM440.3 327.5h1v1h-1zM439.8 334.2h1v1h-1zM448.6 338.3h1v1h-1zM447.3 333.0h1v1h-1zM445.3 333.9h1v1h-1zM435.6 329.9h1v1h-1zM438.5 327.4h1v1h-1zM444.0 327.7h1v1h-1zM441.8 338.1h1v1h-1zM445.3 323.8h1v1h-1z"/><path opacity="0.5" d="M448.4 318.7h1v1h-1zM440.3 328.1h1v1h-1zM456.7 324.6h1v1h-1zM461.8 319.1h1v1h-1zM457.3 319.3h1v1h-1zM452.1 324.3h1v1h-1zM452.2 328.3h1v1h-1zM440.3 312.9h1v1h-1zM454.7 306.8h1v1h-1zM448.8 322.9h1v1h-1zM466.2 304.5h1v1h-1zM448.5 330.8h1v1h-1zM449.3 324.0h1v1h-1zM448.4 330.0h1v1h-1zM459.7 315.2h1v1h-1zM454.3 309.6h1v1h-1zM461.4 321.8h1v1h-1zM456.2 323.4h1v1h-1zM440.2 308.4h1v1h-1zM457.3 330.3h1v1h-1zM450.4 316.1h1v1h-1zM456.8 327.2h1v1h-1zM446.8 329.8h1v1h-1zM447.9 312.9h1v1h-1zM448.0 314.4h1v1h-1zM471.2 319.6h1v1h-1zM455.7 317.8h1v1h-1zM455.5 321.7h1v1h-1zM442.7 315.4h1v1h-1zM452.7 311.8h1v1h-1zM451.3 327.6h1v1h-1zM453.7 318.8h1v1h-1zM458.7 317.6h1v1h-1zM461.8 321.5h1v1h-1zM456.0 322.0h1v1h-1zM454.0 312.1h1v1h-1zM456.1 315.8h1v1h-1zM454.8 315.9h1v1h-1zM437.9 327.6h1v1h-1zM456.9 330.9h1v1h-1zM448.8 316.0h1v1h-1zM457.3 313.4h1v1h-1zM458.6 312.9h1v1h-1zM456.3 314.2h1v1h-1zM456.9 315.6h1v1h-1zM457.0 320.8h1v1h-1zM459.1 321.9h1v1h-1zM449.5 301.8h1v1h-1zM458.7 319.2h1v1h-1zM477.6 302.2h1v1h-1zM476.1 306.1h1v1h-1zM473.2 308.0h1v1h-1zM465.4 311.1h1v1h-1zM486.8 307.8h1v1h-1zM485.0 316.6h1v1h-1zM468.5 304.2h1v1h-1zM469.0 315.7h1v1h-1zM463.8 311.0h1v1h-1zM475.3 312.7h1v1h-1zM487.6 313.1h1v1h-1zM480.5 314.0h1v1h-1zM470.8 311.4h1v1h-1zM475.7 313.9h1v1h-1zM478.3 306.1h1v1h-1zM460.8 310.2h1v1h-1zM488.6 310.9h1v1h-1zM468.4 310.3h1v1h-1zM489.7 311.5h1v1h-1zM478.6 311.6h1v1h-1zM480.8 311.0h1v1h-1zM475.5 309.5h1v1h-1zM475.0 306.1h1v1h-1zM492.7 309.9h1v1h-1zM492.7 327.7h1v1h-1zM493.4 314.1h1v1h-1zM494.6 311.3h1v1h-1zM488.2 320.2h1v1h-1zM491.6 316.9h1v1h-1zM488.0 320.3h1v1h-1zM489.9 327.7h1v1h-1zM489.8 334.2h1v1h-1zM488.2 317.2h1v1h-1zM491.8 319.7h1v1h-1zM493.9 338.4h1v1h-1zM492.1 313.1h1v1h-1zM491.9 318.2h1v1h-1zM489.7 316.8h1v1h-1zM490.7 319.8h1v1h-1zM490.4 327.6h1v1h-1zM493.3 318.3h1v1h-1zM494.1 333.7h1v1h-1zM489.6 317.6h1v1h-1zM493.8 327.0h1v1h-1zM491.7 318.4h1v1h-1zM498.1 321.5h1v1h-1zM490.3 329.2h1v1h-1zM485.0 323.5h1v1h-1zM442.9 338.4h1v1h-1zM435.5 323.9h1v1h-1zM443.9 327.5h1v1h-1zM443.5 331.4h1v1h-1zM448.2 332.9h1v1h-1zM442.2 329.8h1v1h-1zM447.5 333.9h1v1h-1zM448.5 323.2h1v1h-1zM445.1 331.4h1v1h-1zM447.5 333.1h1v1h-1zM439.4 328.9h1v1h-1zM446.1 332.1h1v1h-1zM448.3 328.4h1v1h-1zM447.9 330.8h1v1h-1zM441.4 328.6h1v1h-1zM444.1 335.4h1v1h-1z"/></g>
<rect x="171.2" y="276.3" width="79.5" height="84.89999999999998" stroke="#999" stroke-width="0.9" fill="none" />
<line x1="179.2" y1="361.2" x2="179.2" y2="362.7" stroke="#aaa" stroke-width="0.6" />
<line x1="169.7" y1="352.7" x2="171.2" y2="352.7" stroke="#aaa" stroke-width="0.6" />
<line x1="187.2" y1="361.2" x2="187.2" y2="362.7" stroke="#aaa" stroke-width="0.6" />
<line x1="169.7" y1="344.2" x2="171.2" y2="344.2" stroke="#aaa" stroke-width="0.6" />
<line x1="195.2" y1="361.2" x2="195.2" y2="362.7" stroke="#aaa" stroke-width="0.6" />
<line x1="169.7" y1="335.7" x2="171.2" y2="335.7" stroke="#aaa" stroke-width="0.6" />
<line x1="203.2" y1="361.2" x2="203.2" y2="362.7" stroke="#aaa" stroke-width="0.6" />
<line x1="169.7" y1="327.2" x2="171.2" y2="327.2" stroke="#aaa" stroke-width="0.6" />
<line x1="211.2" y1="361.2" x2="211.2" y2="362.7" stroke="#aaa" stroke-width="0.6" />
<line x1="169.7" y1="318.7" x2="171.2" y2="318.7" stroke="#aaa" stroke-width="0.6" />
<line x1="219.2" y1="361.2" x2="219.2" y2="362.7" stroke="#aaa" stroke-width="0.6" />
<line x1="169.7" y1="310.2" x2="171.2" y2="310.2" stroke="#aaa" stroke-width="0.6" />
<line x1="227.2" y1="361.2" x2="227.2" y2="362.7" stroke="#aaa" stroke-width="0.6" />
<line x1="169.7" y1="301.7" x2="171.2" y2="301.7" stroke="#aaa" stroke-width="0.6" />
<line x1="235.2" y1="361.2" x2="235.2" y2="362.7" stroke="#aaa" stroke-width="0.6" />
<line x1="169.7" y1="293.2" x2="171.2" y2="293.2" stroke="#aaa" stroke-width="0.6" />
<line x1="243.2" y1="361.2" x2="243.2" y2="362.7" stroke="#aaa" stroke-width="0.6" />
<line x1="169.7" y1="284.7" x2="171.2" y2="284.7" stroke="#aaa" stroke-width="0.6" />
<rect x="177" y="290.4" width="29.80000000000001" height="38.60000000000002" stroke="#111" stroke-width="1.1" fill="none" />
<rect x="206.8" y="308.3" width="18.0" height="20.69999999999999" stroke="#111" stroke-width="1.1" fill="none" />
<rect x="257.4" y="276.3" width="80.0" height="84.89999999999998" stroke="#999" stroke-width="0.9" fill="none" />
<line x1="265.4" y1="361.2" x2="265.4" y2="362.7" stroke="#aaa" stroke-width="0.6" />
<line x1="255.89999999999998" y1="352.7" x2="257.4" y2="352.7" stroke="#aaa" stroke-width="0.6" />
<line x1="273.4" y1="361.2" x2="273.4" y2="362.7" stroke="#aaa" stroke-width="0.6" />
<line x1="255.89999999999998" y1="344.2" x2="257.4" y2="344.2" stroke="#aaa" stroke-width="0.6" />
<line x1="281.4" y1="361.2" x2="281.4" y2="362.7" stroke="#aaa" stroke-width="0.6" />
<line x1="255.89999999999998" y1="335.7" x2="257.4" y2="335.7" stroke="#aaa" stroke-width="0.6" />
<line x1="289.4" y1="361.2" x2="289.4" y2="362.7" stroke="#aaa" stroke-width="0.6" />
<line x1="255.89999999999998" y1="327.2" x2="257.4" y2="327.2" stroke="#aaa" stroke-width="0.6" />
<line x1="297.4" y1="361.2" x2="297.4" y2="362.7" stroke="#aaa" stroke-width="0.6" />
<line x1="255.89999999999998" y1="318.7" x2="257.4" y2="318.7" stroke="#aaa" stroke-width="0.6" />
<line x1="305.4" y1="361.2" x2="305.4" y2="362.7" stroke="#aaa" stroke-width="0.6" />
<line x1="255.89999999999998" y1="310.2" x2="257.4" y2="310.2" stroke="#aaa" stroke-width="0.6" />
<line x1="313.4" y1="361.2" x2="313.4" y2="362.7" stroke="#aaa" stroke-width="0.6" />
<line x1="255.89999999999998" y1="301.7" x2="257.4" y2="301.7" stroke="#aaa" stroke-width="0.6" />
<line x1="321.4" y1="361.2" x2="321.4" y2="362.7" stroke="#aaa" stroke-width="0.6" />
<line x1="255.89999999999998" y1="293.2" x2="257.4" y2="293.2" stroke="#aaa" stroke-width="0.6" />
<line x1="329.4" y1="361.2" x2="329.4" y2="362.7" stroke="#aaa" stroke-width="0.6" />
<line x1="255.89999999999998" y1="284.7" x2="257.4" y2="284.7" stroke="#aaa" stroke-width="0.6" />
<rect x="264" y="290.4" width="29.600000000000023" height="38.0" stroke="#111" stroke-width="1.1" fill="none" />
<rect x="293.6" y="308" width="17.69999999999999" height="20.399999999999977" stroke="#111" stroke-width="1.1" fill="none" />
<rect x="347.8" y="276.3" width="79.59999999999997" height="84.89999999999998" stroke="#999" stroke-width="0.9" fill="none" />
<line x1="355.8" y1="361.2" x2="355.8" y2="362.7" stroke="#aaa" stroke-width="0.6" />
<line x1="346.3" y1="352.7" x2="347.8" y2="352.7" stroke="#aaa" stroke-width="0.6" />
<line x1="363.8" y1="361.2" x2="363.8" y2="362.7" stroke="#aaa" stroke-width="0.6" />
<line x1="346.3" y1="344.2" x2="347.8" y2="344.2" stroke="#aaa" stroke-width="0.6" />
<line x1="371.8" y1="361.2" x2="371.8" y2="362.7" stroke="#aaa" stroke-width="0.6" />
<line x1="346.3" y1="335.7" x2="347.8" y2="335.7" stroke="#aaa" stroke-width="0.6" />
<line x1="379.8" y1="361.2" x2="379.8" y2="362.7" stroke="#aaa" stroke-width="0.6" />
<line x1="346.3" y1="327.2" x2="347.8" y2="327.2" stroke="#aaa" stroke-width="0.6" />
<line x1="387.8" y1="361.2" x2="387.8" y2="362.7" stroke="#aaa" stroke-width="0.6" />
<line x1="346.3" y1="318.7" x2="347.8" y2="318.7" stroke="#aaa" stroke-width="0.6" />
<line x1="395.8" y1="361.2" x2="395.8" y2="362.7" stroke="#aaa" stroke-width="0.6" />
<line x1="346.3" y1="310.2" x2="347.8" y2="310.2" stroke="#aaa" stroke-width="0.6" />
<line x1="403.8" y1="361.2" x2="403.8" y2="362.7" stroke="#aaa" stroke-width="0.6" />
<line x1="346.3" y1="301.7" x2="347.8" y2="301.7" stroke="#aaa" stroke-width="0.6" />
<line x1="411.8" y1="361.2" x2="411.8" y2="362.7" stroke="#aaa" stroke-width="0.6" />
<line x1="346.3" y1="293.2" x2="347.8" y2="293.2" stroke="#aaa" stroke-width="0.6" />
<line x1="419.8" y1="361.2" x2="419.8" y2="362.7" stroke="#aaa" stroke-width="0.6" />
<line x1="346.3" y1="284.7" x2="347.8" y2="284.7" stroke="#aaa" stroke-width="0.6" />
<rect x="354.3" y="287.2" width="25.399999999999977" height="46.10000000000002" stroke="#111" stroke-width="1.1" fill="none" />
<rect x="379.7" y="306.3" width="25.30000000000001" height="27.0" stroke="#111" stroke-width="1.1" fill="none" />
<rect x="434.7" y="276.3" width="79.80000000000001" height="84.89999999999998" stroke="#999" stroke-width="0.9" fill="none" />
<line x1="442.7" y1="361.2" x2="442.7" y2="362.7" stroke="#aaa" stroke-width="0.6" />
<line x1="433.2" y1="352.7" x2="434.7" y2="352.7" stroke="#aaa" stroke-width="0.6" />
<line x1="450.7" y1="361.2" x2="450.7" y2="362.7" stroke="#aaa" stroke-width="0.6" />
<line x1="433.2" y1="344.2" x2="434.7" y2="344.2" stroke="#aaa" stroke-width="0.6" />
<line x1="458.7" y1="361.2" x2="458.7" y2="362.7" stroke="#aaa" stroke-width="0.6" />
<line x1="433.2" y1="335.7" x2="434.7" y2="335.7" stroke="#aaa" stroke-width="0.6" />
<line x1="466.7" y1="361.2" x2="466.7" y2="362.7" stroke="#aaa" stroke-width="0.6" />
<line x1="433.2" y1="327.2" x2="434.7" y2="327.2" stroke="#aaa" stroke-width="0.6" />
<line x1="474.7" y1="361.2" x2="474.7" y2="362.7" stroke="#aaa" stroke-width="0.6" />
<line x1="433.2" y1="318.7" x2="434.7" y2="318.7" stroke="#aaa" stroke-width="0.6" />
<line x1="482.7" y1="361.2" x2="482.7" y2="362.7" stroke="#aaa" stroke-width="0.6" />
<line x1="433.2" y1="310.2" x2="434.7" y2="310.2" stroke="#aaa" stroke-width="0.6" />
<line x1="490.7" y1="361.2" x2="490.7" y2="362.7" stroke="#aaa" stroke-width="0.6" />
<line x1="433.2" y1="301.7" x2="434.7" y2="301.7" stroke="#aaa" stroke-width="0.6" />
<line x1="498.7" y1="361.2" x2="498.7" y2="362.7" stroke="#aaa" stroke-width="0.6" />
<line x1="433.2" y1="293.2" x2="434.7" y2="293.2" stroke="#aaa" stroke-width="0.6" />
<line x1="506.7" y1="361.2" x2="506.7" y2="362.7" stroke="#aaa" stroke-width="0.6" />
<line x1="433.2" y1="284.7" x2="434.7" y2="284.7" stroke="#aaa" stroke-width="0.6" />
<rect x="440.6" y="287.9" width="25.399999999999977" height="45.400000000000034" stroke="#111" stroke-width="1.1" fill="none" />
<rect x="466" y="306.3" width="24.5" height="27.0" stroke="#111" stroke-width="1.1" fill="none" />
<text x="177" y="287.2" style="font-family:'Liberation Serif',serif;font-size:9.2px;font-weight:normal" fill="#111" stroke="#111" stroke-width="0.2" text-anchor="start" >12</text>
<text x="245.3" y="286.4" style="font-family:'Liberation Serif',serif;font-size:9.2px;font-weight:normal" fill="#111" stroke="#111" stroke-width="0.2" text-anchor="end" >WT</text>
<text x="226.5" y="307" style="font-family:'Liberation Serif',serif;font-size:9.2px;font-weight:normal" fill="#111" stroke="#111" stroke-width="0.2" text-anchor="start" >3.3</text>
<text x="264.8" y="287.6" style="font-family:'Liberation Serif',serif;font-size:9.2px;font-weight:normal" fill="#111" stroke="#111" stroke-width="0.2" text-anchor="start" >12</text>
<text x="316.6" y="286.5" style="font-family:'Liberation Serif',serif;font-size:9.2px;font-weight:normal" fill="#111" stroke="#111" stroke-width="0.2" text-anchor="start" >D6<tspan style="font-size:4.5px" dy="-3.5" stroke-width="0.05">-/-</tspan></text>
<text x="315.8" y="306.6" style="font-family:'Liberation Serif',serif;font-size:9.2px;font-weight:normal" fill="#111" stroke="#111" stroke-width="0.2" text-anchor="start" >0.3</text>
<text x="354.3" y="285" style="font-family:'Liberation Serif',serif;font-size:9.2px;font-weight:normal" fill="#111" stroke="#111" stroke-width="0.2" text-anchor="start" >12</text>
<text x="423.2" y="287.1" style="font-family:'Liberation Serif',serif;font-size:9.2px;font-weight:normal" fill="#111" stroke="#111" stroke-width="0.2" text-anchor="end" >WT</text>
<text x="405.2" y="304" style="font-family:'Liberation Serif',serif;font-size:9.2px;font-weight:normal" fill="#111" stroke="#111" stroke-width="0.2" text-anchor="start" >3.4</text>
<text x="441.6" y="285" style="font-family:'Liberation Serif',serif;font-size:9.2px;font-weight:normal" fill="#111" stroke="#111" stroke-width="0.2" text-anchor="start" >2</text>
<text x="482.8" y="287.2" style="font-family:'Liberation Serif',serif;font-size:9px;font-weight:normal" fill="#111" stroke="#111" stroke-width="0.2" text-anchor="start" >CCR2<tspan style="font-size:4.5px" dy="-3.5" stroke-width="0.05">-/-</tspan></text>
<text x="491" y="303.6" style="font-family:'Liberation Serif',serif;font-size:9.2px;font-weight:normal" fill="#111" stroke="#111" stroke-width="0.2" text-anchor="start" >3.6</text>
<line x1="170.6" y1="369" x2="334" y2="369" stroke="#333" stroke-width="1.2" />
<path d="M338,369 L331,366.3 L331,371.7 Z" fill="#333"/>
<line x1="348" y1="368.6" x2="511" y2="368.6" stroke="#333" stroke-width="1.3" />
<path d="M515.3,368.6 L508.8,366.4 L508.8,370.8 Z" fill="#222"/>
<text x="256.5" y="382.5" style="font-family:'Liberation Serif',serif;font-size:11px;font-weight:normal" fill="#111" stroke="#111" stroke-width="0.2" text-anchor="middle" >CD19</text>
<text x="429" y="383" style="font-family:'Liberation Serif',serif;font-size:11px;font-weight:normal" fill="#111" stroke="#111" stroke-width="0.2" text-anchor="middle" >CD19</text>
</svg>
</body></html>
